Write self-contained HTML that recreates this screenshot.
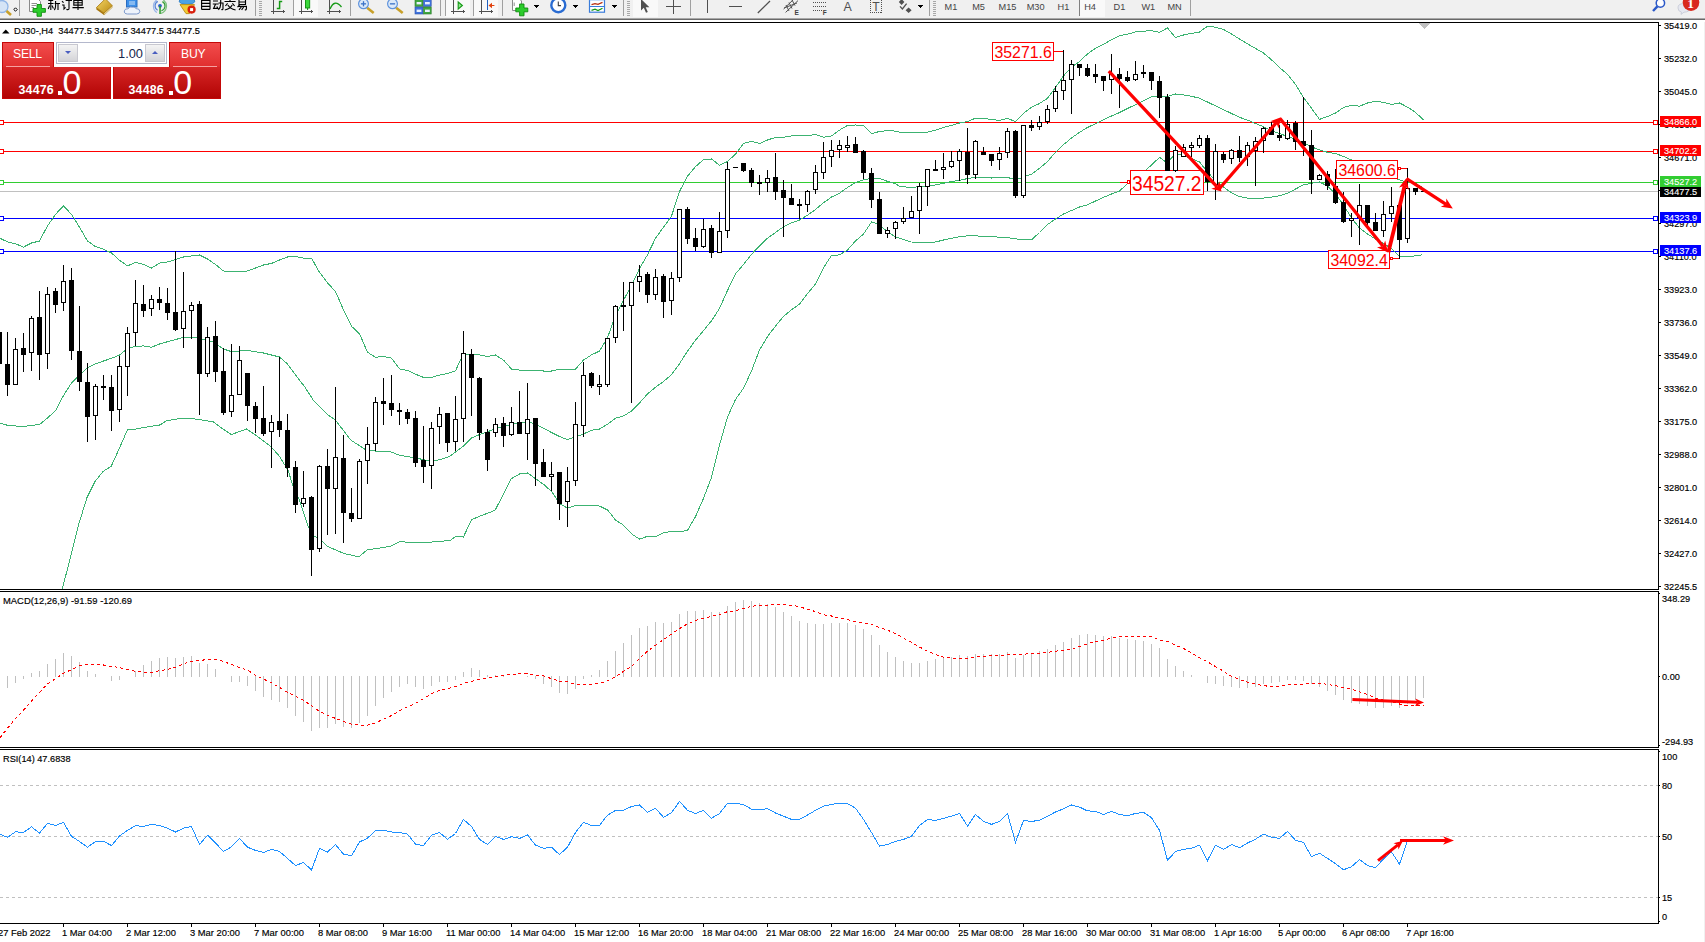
<!DOCTYPE html>
<html><head><meta charset="utf-8"><title>DJ30 H4</title>
<style>
html,body{margin:0;padding:0}
body{width:1705px;height:942px;overflow:hidden;background:#fff;position:relative;font-family:"Liberation Sans",sans-serif}
svg{position:absolute;left:0;top:0;display:block;overflow:hidden}
#panel{position:absolute;left:0;top:0;width:230px;height:110px}
#panel div,#panel span,#panel i,#panel b{position:absolute;display:block;box-sizing:border-box}
.pb{top:42px;height:25px;background:linear-gradient(#f24c4c,#e02e2e);border:1px solid #c40808;border-bottom:none;color:#fff;font-size:12.2px}
.pb span{top:3.5px;letter-spacing:-.25px}
.pb i{left:3px;right:3px;bottom:0;height:1px;background:#f6a0a0}
.vol{left:56px;top:42px;width:111px;height:22px;border:1px solid #b4b8cc;background:#fff}
.vb{top:1px;width:20px;height:18px;background:linear-gradient(#f4f4f4,#d4d4d8);border:1px solid #c8c8d0}
.vb b{left:6px;top:6px;width:0;height:0;border-left:3px solid transparent;border-right:3px solid transparent}
.vb b.dn{border-top:3.5px solid #4a5ec0}
.vb b.up{border-bottom:3.5px solid #4a5ec0}
.vin{left:21px;top:1px;width:68px;height:20px;text-align:right;padding-right:3px;font-size:12.8px;line-height:20px;color:#16264a}
.pp{top:67px;height:32px;background:linear-gradient(#d62626,#b20404);border:1px solid #c40808;border-top:none;color:#fff}
.pp .sm{top:16px;font-size:12.4px;font-weight:bold;letter-spacing:.2px}
.pp .dot{top:23.5px;width:4px;height:4px;background:#fff}
.pp .big{top:-3.6px;font-size:34px;line-height:38px}
</style></head>
<body>
<svg id="chart" width="1705" height="942" viewBox="0 0 1705 942" shape-rendering="crispEdges">
<rect x="0" y="22" width="1659" height="1" fill="#000"/>
<rect x="0" y="589" width="1659" height="1" fill="#000"/>
<rect x="0" y="591" width="1659" height="1" fill="#000"/>
<rect x="0" y="747" width="1659" height="1" fill="#000"/>
<rect x="0" y="749" width="1659" height="1" fill="#000"/>
<rect x="0" y="923" width="1659" height="1" fill="#000"/>
<rect x="1658" y="22" width="1" height="902" fill="#000"/>
<rect x="1704" y="20" width="1" height="922" fill="#f0f0f0"/>
<polygon points="1419,23 1430,23 1424.5,29" fill="#c0c0c0"/>
<rect x="0" y="122" width="1658" height="1" fill="#ff0000"/>
<rect x="0" y="151" width="1658" height="1" fill="#ff0000"/>
<rect x="0" y="182" width="1658" height="1" fill="#32cd32"/>
<rect x="0" y="191" width="1658" height="1" fill="#c0c0c0"/>
<rect x="0" y="218" width="1658" height="1" fill="#0000ff"/>
<rect x="0" y="251" width="1658" height="1" fill="#0000ff"/>
<line x1="0" y1="785.5" x2="1658" y2="785.5" stroke="#c0c0c0" stroke-width="1" stroke-dasharray="3,3"/>
<line x1="0" y1="836.5" x2="1658" y2="836.5" stroke="#c0c0c0" stroke-width="1" stroke-dasharray="3,3"/>
<line x1="0" y1="897.5" x2="1658" y2="897.5" stroke="#c0c0c0" stroke-width="1" stroke-dasharray="3,3"/>
<polyline points="0.0,238.3 7.5,241.9 15.5,243.8 23.5,247.1 31.5,243.0 39.5,241.0 47.5,225.9 55.5,214.3 63.5,206.0 71.5,214.3 79.5,227.2 87.5,241.0 95.5,246.6 103.5,249.3 111.5,252.9 119.5,260.3 127.5,265.9 135.5,262.3 143.5,264.5 151.5,268.0 159.5,263.1 167.5,262.0 183.5,257.0 199.5,255.0 207.5,259.0 215.5,264.5 223.5,271.0 231.5,271.5 239.5,271.5 247.5,271.0 255.5,268.0 263.5,265.0 271.5,263.4 279.5,260.0 287.5,257.0 295.5,256.5 303.5,258.2 311.5,258.2 319.5,272.3 327.5,282.8 335.5,291.6 343.5,309.8 351.5,326.3 359.5,333.8 367.5,352.2 375.5,357.3 383.5,356.4 391.5,358.2 399.5,368.9 407.5,370.4 415.5,374.2 423.5,377.4 431.5,377.4 439.5,375.1 447.5,373.6 455.5,370.8 463.5,353.5 471.5,354.9 479.5,354.9 487.5,356.4 495.5,355.0 503.5,360.1 511.5,369.1 519.5,370.1 527.5,370.1 535.5,370.1 543.5,371.0 551.5,371.0 559.5,369.1 567.5,369.9 575.5,369.1 583.5,360.1 591.5,354.9 599.5,351.1 607.5,337.6 615.5,315.5 623.5,300.3 631.5,285.2 639.5,268.6 647.5,254.8 655.5,238.3 663.5,227.2 671.5,216.2 679.5,191.4 687.5,176.2 695.5,166.6 703.5,159.7 711.5,159.0 719.5,165.2 727.5,161.6 735.5,154.0 740.0,148.3 743.5,143.5 751.5,141.2 759.5,143.5 767.5,140.0 775.5,137.4 783.5,137.2 791.5,136.0 799.5,135.5 807.5,135.9 815.5,134.4 823.5,137.2 831.5,135.9 839.5,130.1 847.5,125.4 855.5,125.0 863.5,125.4 871.5,133.6 879.5,131.5 887.5,130.7 895.5,131.1 899.6,132.1 911.5,132.5 919.5,132.4 927.5,132.1 935.5,130.2 943.5,127.4 951.5,125.4 959.5,123.0 967.5,121.6 975.5,118.2 983.5,118.2 991.5,119.7 999.5,120.3 1007.5,118.4 1015.5,121.6 1023.5,113.4 1031.5,107.3 1039.5,103.5 1047.5,98.3 1055.5,87.4 1063.5,75.9 1071.5,67.3 1079.5,61.5 1087.5,53.9 1095.5,48.2 1103.5,44.3 1111.5,39.6 1119.5,35.7 1127.5,34.2 1135.5,31.9 1143.5,31.2 1151.5,30.6 1159.5,32.3 1167.5,27.9 1175.5,37.6 1183.5,35.0 1191.5,33.4 1199.5,32.0 1207.5,26.2 1215.5,27.2 1223.5,29.5 1231.5,34.0 1239.5,39.0 1247.5,43.8 1255.5,48.4 1263.5,53.0 1271.5,59.8 1279.5,67.6 1287.5,74.3 1295.5,84.3 1303.5,97.5 1311.5,108.3 1319.5,119.4 1327.5,116.5 1335.5,113.0 1343.5,107.5 1351.5,105.3 1359.5,106.2 1367.5,103.0 1375.5,101.3 1383.5,102.4 1391.5,104.5 1399.5,103.0 1407.5,107.1 1415.5,112.4 1423.5,119.8" fill="none" stroke="#3cb371" stroke-width="1"/>
<polyline points="0.0,423.0 7.5,425.3 15.5,426.0 23.5,426.4 31.5,425.5 39.5,424.5 47.5,418.0 55.5,410.7 63.5,395.5 71.5,383.0 79.5,374.8 87.5,368.0 95.5,363.8 103.5,361.0 111.5,358.3 119.5,355.0 127.5,348.6 135.5,346.4 143.5,345.9 151.5,347.2 159.5,344.0 166.5,342.0 183.5,337.4 198.5,338.0 213.5,342.0 223.5,349.0 231.5,351.7 246.5,350.3 263.5,353.0 279.5,357.0 287.5,364.0 295.5,375.0 305.2,387.5 313.4,400.4 327.4,414.4 335.5,420.2 350.7,440.0 367.0,450.6 390.4,451.8 399.8,455.3 413.8,457.6 430.0,461.0 440.0,459.7 449.3,456.6 463.4,446.0 471.5,438.0 479.7,434.5 486.7,432.0 503.0,426.3 519.4,422.8 527.6,421.6 535.8,424.0 544.0,428.6 559.0,436.3 567.3,439.6 575.5,436.8 583.5,434.0 591.5,430.2 599.5,429.1 607.5,424.3 615.5,418.2 623.5,415.9 631.5,411.1 639.5,402.9 647.5,394.0 655.5,387.3 663.5,381.5 671.4,374.8 679.4,363.8 687.4,351.4 695.4,340.3 703.4,330.7 711.4,321.0 719.4,308.6 727.4,290.7 735.4,274.0 743.4,264.5 751.5,254.4 759.5,245.8 767.5,238.2 775.6,232.4 783.6,226.7 791.4,222.9 799.5,220.0 807.5,215.2 815.5,209.5 823.5,202.8 831.6,197.0 839.4,193.2 847.4,187.5 855.5,182.7 863.5,179.8 871.5,178.5 879.6,178.5 887.6,181.4 895.4,183.7 899.6,186.2 911.4,187.6 919.4,186.6 927.5,186.0 935.5,185.0 943.5,183.4 951.6,181.5 959.6,180.3 967.4,178.6 975.5,177.4 983.5,177.6 991.5,178.0 999.5,177.4 1007.6,177.4 1015.4,179.9 1023.4,177.0 1031.5,174.2 1039.5,168.4 1047.5,161.5 1055.5,152.3 1063.5,144.7 1071.5,138.0 1079.6,132.3 1087.4,127.5 1095.4,123.7 1103.5,119.8 1111.5,116.0 1119.5,112.6 1127.6,108.4 1135.6,104.6 1143.4,100.7 1151.5,96.9 1159.5,96.0 1167.5,96.5 1175.5,94.0 1183.6,95.0 1191.4,96.3 1199.6,98.2 1207.4,102.0 1215.4,105.8 1223.5,109.6 1231.5,113.5 1239.5,117.3 1247.5,120.1 1255.6,123.6 1263.6,126.8 1271.4,130.7 1279.5,133.5 1287.5,136.5 1295.5,139.3 1303.6,143.0 1311.6,146.9 1319.4,149.8 1327.5,152.3 1335.5,153.5 1343.5,156.5 1350.0,159.3 1359.5,163.0 1367.5,166.0 1375.5,170.0 1383.5,173.5 1391.5,176.5 1397.3,179.0 1401.7,180.9 1407.5,181.5 1415.0,183.0 1422.5,187.5" fill="none" stroke="#3cb371" stroke-width="1"/>
<polyline points="62.4,588.5 70.6,556.9 78.7,524.3 86.9,497.8 95.0,481.5 103.2,471.3 111.3,466.2 119.5,447.9 127.6,429.5 135.8,429.1 143.9,427.5 152.1,426.1 160.2,424.9 166.5,420.7 183.0,418.0 198.0,419.3 213.4,422.0 223.0,429.0 231.4,434.5 246.5,429.0 254.8,434.5 271.4,447.0 279.7,456.6 287.9,470.0 293.4,487.0 299.3,499.6 308.7,527.7 313.4,535.8 320.4,539.4 327.4,546.4 343.7,553.4 358.9,556.9 367.0,549.9 390.4,546.4 399.8,541.7 420.8,542.9 450.0,540.5 456.4,536.0 463.4,537.0 471.5,519.7 479.7,516.2 495.0,510.4 503.0,495.0 511.2,478.8 519.4,474.0 527.6,473.0 535.8,478.8 544.0,484.7 551.7,491.7 559.6,503.4 567.3,508.0 575.5,505.7 583.5,505.1 591.5,505.1 599.5,506.1 607.5,509.9 615.5,520.0 623.5,525.2 631.5,533.8 639.5,539.1 647.5,536.3 655.5,536.6 663.5,532.8 671.5,531.5 679.5,531.9 687.5,530.3 695.5,516.6 703.5,498.4 711.5,477.4 719.5,445.0 727.5,417.2 735.5,399.4 743.5,388.2 751.5,371.0 759.5,350.0 767.5,336.6 775.5,326.1 783.5,316.5 791.5,309.8 799.5,304.1 807.5,293.6 815.5,284.0 823.5,267.8 831.5,255.4 839.5,254.9 847.5,250.0 855.5,241.0 863.5,234.0 871.5,222.0 879.5,224.5 887.5,232.0 895.5,236.8 899.6,238.2 911.4,242.0 919.4,242.6 927.5,242.6 935.5,242.0 943.5,240.0 951.6,238.2 959.6,236.7 967.4,235.9 975.5,235.9 991.5,236.7 1007.6,237.6 1015.4,238.8 1023.4,240.0 1031.5,239.8 1039.5,232.5 1047.5,224.5 1055.5,219.0 1063.5,214.0 1071.5,210.5 1079.5,207.0 1087.4,204.9 1095.4,201.1 1103.5,197.3 1111.5,194.0 1119.5,191.0 1127.5,183.7 1135.5,177.0 1143.5,172.0 1151.5,165.0 1159.5,157.4 1167.5,163.0 1175.5,153.0 1183.5,156.0 1191.5,158.5 1199.5,162.0 1207.5,172.0 1215.5,180.5 1223.5,187.0 1231.5,192.8 1239.5,196.6 1247.5,198.1 1255.6,198.5 1263.6,198.1 1271.4,197.2 1279.5,195.7 1287.5,193.4 1295.5,189.0 1303.6,184.8 1311.6,183.2 1319.4,182.0 1327.5,186.0 1335.5,194.0 1343.5,205.0 1351.5,218.0 1359.5,228.0 1367.5,234.0 1375.5,239.0 1383.5,243.5 1391.5,248.5 1399.5,256.6 1407.5,256.6 1415.5,255.9 1422.5,254.8" fill="none" stroke="#3cb371" stroke-width="1"/>
<rect x="7" y="676" width="1" height="12" fill="#c0c0c0"/>
<rect x="15" y="676" width="1" height="7" fill="#c0c0c0"/>
<rect x="23" y="676" width="1" height="3" fill="#c0c0c0"/>
<rect x="31" y="673" width="1" height="4" fill="#c0c0c0"/>
<rect x="39" y="671" width="1" height="6" fill="#c0c0c0"/>
<rect x="47" y="664" width="1" height="13" fill="#c0c0c0"/>
<rect x="55" y="659" width="1" height="18" fill="#c0c0c0"/>
<rect x="63" y="653" width="1" height="24" fill="#c0c0c0"/>
<rect x="71" y="656" width="1" height="21" fill="#c0c0c0"/>
<rect x="79" y="662" width="1" height="15" fill="#c0c0c0"/>
<rect x="87" y="671" width="1" height="6" fill="#c0c0c0"/>
<rect x="95" y="674" width="1" height="3" fill="#c0c0c0"/>
<rect x="111" y="676" width="1" height="5" fill="#c0c0c0"/>
<rect x="119" y="676" width="1" height="4" fill="#c0c0c0"/>
<rect x="135" y="671" width="1" height="6" fill="#c0c0c0"/>
<rect x="143" y="665" width="1" height="12" fill="#c0c0c0"/>
<rect x="151" y="661" width="1" height="16" fill="#c0c0c0"/>
<rect x="159" y="658" width="1" height="19" fill="#c0c0c0"/>
<rect x="167" y="657" width="1" height="20" fill="#c0c0c0"/>
<rect x="175" y="658" width="1" height="19" fill="#c0c0c0"/>
<rect x="183" y="657" width="1" height="20" fill="#c0c0c0"/>
<rect x="191" y="656" width="1" height="21" fill="#c0c0c0"/>
<rect x="199" y="663" width="1" height="14" fill="#c0c0c0"/>
<rect x="207" y="664" width="1" height="13" fill="#c0c0c0"/>
<rect x="215" y="669" width="1" height="8" fill="#c0c0c0"/>
<rect x="231" y="676" width="1" height="6" fill="#c0c0c0"/>
<rect x="239" y="676" width="1" height="6" fill="#c0c0c0"/>
<rect x="247" y="676" width="1" height="10" fill="#c0c0c0"/>
<rect x="255" y="676" width="1" height="15" fill="#c0c0c0"/>
<rect x="263" y="676" width="1" height="21" fill="#c0c0c0"/>
<rect x="271" y="676" width="1" height="24" fill="#c0c0c0"/>
<rect x="279" y="676" width="1" height="26" fill="#c0c0c0"/>
<rect x="287" y="676" width="1" height="32" fill="#c0c0c0"/>
<rect x="295" y="676" width="1" height="40" fill="#c0c0c0"/>
<rect x="303" y="676" width="1" height="46" fill="#c0c0c0"/>
<rect x="311" y="676" width="1" height="55" fill="#c0c0c0"/>
<rect x="319" y="676" width="1" height="52" fill="#c0c0c0"/>
<rect x="327" y="676" width="1" height="52" fill="#c0c0c0"/>
<rect x="335" y="676" width="1" height="48" fill="#c0c0c0"/>
<rect x="343" y="676" width="1" height="51" fill="#c0c0c0"/>
<rect x="351" y="676" width="1" height="52" fill="#c0c0c0"/>
<rect x="359" y="676" width="1" height="47" fill="#c0c0c0"/>
<rect x="367" y="676" width="1" height="40" fill="#c0c0c0"/>
<rect x="375" y="676" width="1" height="30" fill="#c0c0c0"/>
<rect x="383" y="676" width="1" height="22" fill="#c0c0c0"/>
<rect x="391" y="676" width="1" height="16" fill="#c0c0c0"/>
<rect x="399" y="676" width="1" height="11" fill="#c0c0c0"/>
<rect x="407" y="676" width="1" height="8" fill="#c0c0c0"/>
<rect x="415" y="676" width="1" height="11" fill="#c0c0c0"/>
<rect x="423" y="676" width="1" height="13" fill="#c0c0c0"/>
<rect x="431" y="676" width="1" height="10" fill="#c0c0c0"/>
<rect x="439" y="676" width="1" height="6" fill="#c0c0c0"/>
<rect x="447" y="676" width="1" height="6" fill="#c0c0c0"/>
<rect x="455" y="676" width="1" height="4" fill="#c0c0c0"/>
<rect x="463" y="672" width="1" height="5" fill="#c0c0c0"/>
<rect x="471" y="668" width="1" height="9" fill="#c0c0c0"/>
<rect x="479" y="670" width="1" height="7" fill="#c0c0c0"/>
<rect x="487" y="675" width="1" height="2" fill="#c0c0c0"/>
<rect x="495" y="675" width="1" height="2" fill="#c0c0c0"/>
<rect x="503" y="675" width="1" height="2" fill="#c0c0c0"/>
<rect x="527" y="676" width="1" height="1" fill="#c0c0c0"/>
<rect x="535" y="676" width="1" height="3" fill="#c0c0c0"/>
<rect x="543" y="676" width="1" height="8" fill="#c0c0c0"/>
<rect x="551" y="676" width="1" height="11" fill="#c0c0c0"/>
<rect x="559" y="676" width="1" height="17" fill="#c0c0c0"/>
<rect x="567" y="676" width="1" height="18" fill="#c0c0c0"/>
<rect x="575" y="676" width="1" height="13" fill="#c0c0c0"/>
<rect x="583" y="676" width="1" height="3" fill="#c0c0c0"/>
<rect x="591" y="675" width="1" height="2" fill="#c0c0c0"/>
<rect x="599" y="670" width="1" height="7" fill="#c0c0c0"/>
<rect x="607" y="661" width="1" height="16" fill="#c0c0c0"/>
<rect x="615" y="651" width="1" height="26" fill="#c0c0c0"/>
<rect x="623" y="643" width="1" height="34" fill="#c0c0c0"/>
<rect x="631" y="635" width="1" height="42" fill="#c0c0c0"/>
<rect x="639" y="628" width="1" height="49" fill="#c0c0c0"/>
<rect x="647" y="626" width="1" height="51" fill="#c0c0c0"/>
<rect x="655" y="622" width="1" height="55" fill="#c0c0c0"/>
<rect x="663" y="623" width="1" height="54" fill="#c0c0c0"/>
<rect x="671" y="622" width="1" height="55" fill="#c0c0c0"/>
<rect x="679" y="614" width="1" height="63" fill="#c0c0c0"/>
<rect x="687" y="611" width="1" height="66" fill="#c0c0c0"/>
<rect x="695" y="611" width="1" height="66" fill="#c0c0c0"/>
<rect x="703" y="610" width="1" height="67" fill="#c0c0c0"/>
<rect x="711" y="612" width="1" height="65" fill="#c0c0c0"/>
<rect x="719" y="612" width="1" height="65" fill="#c0c0c0"/>
<rect x="727" y="606" width="1" height="71" fill="#c0c0c0"/>
<rect x="735" y="602" width="1" height="75" fill="#c0c0c0"/>
<rect x="743" y="600" width="1" height="77" fill="#c0c0c0"/>
<rect x="751" y="601" width="1" height="76" fill="#c0c0c0"/>
<rect x="759" y="603" width="1" height="74" fill="#c0c0c0"/>
<rect x="767" y="604" width="1" height="73" fill="#c0c0c0"/>
<rect x="775" y="607" width="1" height="70" fill="#c0c0c0"/>
<rect x="783" y="612" width="1" height="65" fill="#c0c0c0"/>
<rect x="791" y="616" width="1" height="61" fill="#c0c0c0"/>
<rect x="799" y="621" width="1" height="56" fill="#c0c0c0"/>
<rect x="807" y="623" width="1" height="54" fill="#c0c0c0"/>
<rect x="815" y="624" width="1" height="53" fill="#c0c0c0"/>
<rect x="823" y="624" width="1" height="53" fill="#c0c0c0"/>
<rect x="831" y="623" width="1" height="54" fill="#c0c0c0"/>
<rect x="839" y="623" width="1" height="54" fill="#c0c0c0"/>
<rect x="847" y="623" width="1" height="54" fill="#c0c0c0"/>
<rect x="855" y="625" width="1" height="52" fill="#c0c0c0"/>
<rect x="863" y="629" width="1" height="48" fill="#c0c0c0"/>
<rect x="871" y="635" width="1" height="42" fill="#c0c0c0"/>
<rect x="879" y="645" width="1" height="32" fill="#c0c0c0"/>
<rect x="887" y="652" width="1" height="25" fill="#c0c0c0"/>
<rect x="895" y="657" width="1" height="20" fill="#c0c0c0"/>
<rect x="903" y="661" width="1" height="16" fill="#c0c0c0"/>
<rect x="911" y="663" width="1" height="14" fill="#c0c0c0"/>
<rect x="919" y="663" width="1" height="14" fill="#c0c0c0"/>
<rect x="927" y="661" width="1" height="16" fill="#c0c0c0"/>
<rect x="935" y="659" width="1" height="18" fill="#c0c0c0"/>
<rect x="943" y="658" width="1" height="19" fill="#c0c0c0"/>
<rect x="951" y="657" width="1" height="20" fill="#c0c0c0"/>
<rect x="959" y="655" width="1" height="22" fill="#c0c0c0"/>
<rect x="967" y="656" width="1" height="21" fill="#c0c0c0"/>
<rect x="975" y="654" width="1" height="23" fill="#c0c0c0"/>
<rect x="983" y="654" width="1" height="23" fill="#c0c0c0"/>
<rect x="991" y="654" width="1" height="23" fill="#c0c0c0"/>
<rect x="999" y="654" width="1" height="23" fill="#c0c0c0"/>
<rect x="1007" y="652" width="1" height="25" fill="#c0c0c0"/>
<rect x="1015" y="658" width="1" height="19" fill="#c0c0c0"/>
<rect x="1023" y="655" width="1" height="22" fill="#c0c0c0"/>
<rect x="1031" y="653" width="1" height="24" fill="#c0c0c0"/>
<rect x="1039" y="651" width="1" height="26" fill="#c0c0c0"/>
<rect x="1047" y="649" width="1" height="28" fill="#c0c0c0"/>
<rect x="1055" y="645" width="1" height="32" fill="#c0c0c0"/>
<rect x="1063" y="642" width="1" height="35" fill="#c0c0c0"/>
<rect x="1071" y="638" width="1" height="39" fill="#c0c0c0"/>
<rect x="1079" y="635" width="1" height="42" fill="#c0c0c0"/>
<rect x="1087" y="634" width="1" height="43" fill="#c0c0c0"/>
<rect x="1095" y="635" width="1" height="42" fill="#c0c0c0"/>
<rect x="1103" y="636" width="1" height="41" fill="#c0c0c0"/>
<rect x="1111" y="636" width="1" height="41" fill="#c0c0c0"/>
<rect x="1119" y="638" width="1" height="39" fill="#c0c0c0"/>
<rect x="1127" y="639" width="1" height="38" fill="#c0c0c0"/>
<rect x="1135" y="640" width="1" height="37" fill="#c0c0c0"/>
<rect x="1143" y="641" width="1" height="36" fill="#c0c0c0"/>
<rect x="1151" y="644" width="1" height="33" fill="#c0c0c0"/>
<rect x="1159" y="648" width="1" height="29" fill="#c0c0c0"/>
<rect x="1167" y="659" width="1" height="18" fill="#c0c0c0"/>
<rect x="1175" y="666" width="1" height="11" fill="#c0c0c0"/>
<rect x="1183" y="671" width="1" height="6" fill="#c0c0c0"/>
<rect x="1191" y="675" width="1" height="2" fill="#c0c0c0"/>
<rect x="1207" y="676" width="1" height="7" fill="#c0c0c0"/>
<rect x="1215" y="676" width="1" height="8" fill="#c0c0c0"/>
<rect x="1223" y="676" width="1" height="10" fill="#c0c0c0"/>
<rect x="1231" y="676" width="1" height="11" fill="#c0c0c0"/>
<rect x="1239" y="676" width="1" height="12" fill="#c0c0c0"/>
<rect x="1247" y="676" width="1" height="12" fill="#c0c0c0"/>
<rect x="1255" y="676" width="1" height="11" fill="#c0c0c0"/>
<rect x="1263" y="676" width="1" height="8" fill="#c0c0c0"/>
<rect x="1271" y="676" width="1" height="7" fill="#c0c0c0"/>
<rect x="1279" y="676" width="1" height="6" fill="#c0c0c0"/>
<rect x="1287" y="676" width="1" height="4" fill="#c0c0c0"/>
<rect x="1295" y="676" width="1" height="4" fill="#c0c0c0"/>
<rect x="1303" y="676" width="1" height="5" fill="#c0c0c0"/>
<rect x="1311" y="676" width="1" height="8" fill="#c0c0c0"/>
<rect x="1319" y="676" width="1" height="11" fill="#c0c0c0"/>
<rect x="1327" y="676" width="1" height="15" fill="#c0c0c0"/>
<rect x="1335" y="676" width="1" height="19" fill="#c0c0c0"/>
<rect x="1343" y="676" width="1" height="24" fill="#c0c0c0"/>
<rect x="1351" y="676" width="1" height="27" fill="#c0c0c0"/>
<rect x="1359" y="676" width="1" height="28" fill="#c0c0c0"/>
<rect x="1367" y="676" width="1" height="30" fill="#c0c0c0"/>
<rect x="1375" y="676" width="1" height="32" fill="#c0c0c0"/>
<rect x="1383" y="676" width="1" height="32" fill="#c0c0c0"/>
<rect x="1391" y="676" width="1" height="30" fill="#c0c0c0"/>
<rect x="1399" y="676" width="1" height="32" fill="#c0c0c0"/>
<rect x="1407" y="676" width="1" height="28" fill="#c0c0c0"/>
<rect x="1415" y="676" width="1" height="24" fill="#c0c0c0"/>
<rect x="1423" y="676" width="1" height="22" fill="#c0c0c0"/>
<polyline points="0.0,737.8 7.4,728.3 15.4,718.8 23.4,710.4 31.5,700.9 39.5,692.4 47.5,684.0 55.5,678.7 63.3,673.4 71.4,669.6 79.4,666.0 87.4,664.5 95.4,664.3 103.5,665.0 111.5,666.4 119.5,667.5 127.5,669.6 135.6,671.3 143.6,672.3 151.4,672.3 159.4,670.7 167.4,669.6 175.5,667.1 183.5,663.9 191.5,661.4 199.5,660.7 207.6,659.3 215.6,659.3 223.4,661.4 231.4,664.5 239.4,667.5 247.5,670.2 255.5,675.1 263.5,679.1 271.5,682.9 279.6,687.5 287.6,692.4 295.6,696.2 303.4,700.2 311.4,705.7 319.5,711.4 327.5,715.2 335.5,718.4 343.5,721.5 351.6,724.1 360.0,725.1 367.4,725.1 375.4,723.0 383.4,719.2 391.5,715.6 399.5,710.8 407.5,706.8 415.5,703.4 423.3,698.7 431.4,693.9 439.4,690.3 447.4,688.6 455.4,686.5 463.5,683.3 471.5,681.4 479.5,679.3 487.5,678.3 495.6,676.6 503.6,675.5 511.4,674.5 519.4,673.6 527.4,673.6 535.5,674.9 543.5,675.9 551.5,678.7 559.5,681.2 567.6,681.8 575.6,684.4 583.4,684.4 591.4,684.4 599.4,683.5 607.5,680.8 615.5,676.6 623.5,671.3 631.5,666.4 639.6,658.2 647.6,651.2 655.6,645.3 663.4,639.6 671.4,634.3 679.5,628.6 687.5,623.8 695.5,620.6 703.5,618.1 711.6,616.4 720.0,614.5 727.4,611.7 735.4,610.7 743.4,608.6 751.5,606.3 759.5,605.2 767.5,605.2 775.5,604.4 783.3,604.4 791.4,605.2 799.4,606.5 807.4,609.4 815.4,611.5 823.5,614.7 831.5,616.0 839.5,618.1 847.5,619.6 855.6,621.7 863.6,623.4 871.4,624.2 879.4,627.6 887.4,630.1 895.5,633.7 903.5,638.1 911.5,642.4 919.5,647.0 927.6,651.2 935.6,654.4 943.4,657.1 951.4,658.2 959.4,658.2 967.5,658.2 975.5,657.1 983.5,656.5 991.5,655.5 999.6,655.5 1007.6,654.6 1015.6,654.4 1023.4,654.4 1031.4,653.3 1039.5,653.3 1047.5,652.3 1055.5,651.2 1063.5,650.2 1071.6,649.1 1080.0,646.4 1087.4,643.8 1095.4,641.3 1103.4,640.3 1111.5,638.1 1119.5,636.9 1127.5,636.5 1135.5,636.5 1143.3,636.5 1151.4,636.9 1159.4,640.0 1167.4,641.3 1175.4,645.3 1183.5,648.5 1191.5,652.7 1199.5,657.6 1207.5,661.8 1215.6,666.6 1223.6,671.3 1231.4,676.1 1239.4,679.3 1247.4,682.3 1255.5,684.0 1263.5,685.7 1271.5,686.5 1279.5,686.5 1287.6,685.0 1295.6,684.6 1303.4,684.4 1311.4,683.3 1319.4,683.3 1327.5,684.4 1335.5,685.7 1343.5,687.5 1351.5,689.2 1359.6,692.0 1367.6,694.5 1375.6,698.1 1383.4,700.2 1391.4,701.9 1399.5,704.0 1407.5,705.7 1415.5,705.7 1423.5,705.1" fill="none" stroke="#ff0000" stroke-width="1" stroke-dasharray="3,3"/>
<polyline points="-0.5,834.1 7.5,837.3 15.5,831.8 23.5,832.5 31.5,826.8 39.5,833.1 47.5,823.4 55.5,825.5 63.5,822.3 71.5,836.3 79.5,841.5 87.5,847.2 95.5,841.5 103.5,841.3 111.5,845.6 119.5,836.0 127.5,830.3 135.5,825.7 143.5,826.5 151.5,824.4 159.5,825.5 167.5,828.2 175.5,832.0 183.5,828.2 191.5,826.5 199.5,844.5 207.5,835.2 215.5,843.0 223.5,851.5 231.5,846.8 239.5,838.4 247.5,847.2 255.5,850.4 263.5,852.5 271.5,849.4 279.5,851.5 287.5,858.4 295.5,865.6 303.5,862.4 311.5,870.0 319.5,848.3 327.5,852.1 335.5,844.5 343.5,854.2 351.5,855.7 359.5,842.0 367.5,838.2 375.5,830.3 383.5,830.3 391.5,832.0 399.5,832.5 407.5,834.1 415.5,844.1 423.5,845.6 431.5,835.2 439.5,832.5 447.5,839.2 455.5,833.5 463.5,819.4 471.5,826.5 479.5,839.4 487.5,844.5 495.5,836.3 503.5,839.4 511.5,836.7 519.5,838.4 527.5,835.0 535.5,845.1 543.5,848.3 551.5,847.2 559.5,854.6 567.5,847.2 575.5,832.5 583.5,822.3 591.5,825.5 599.5,825.5 607.5,815.1 615.5,810.5 623.5,810.3 631.5,806.5 639.5,805.0 647.5,812.4 655.5,808.2 663.5,817.3 671.5,812.8 679.5,801.4 687.5,810.3 695.5,813.5 703.5,810.3 711.5,818.3 719.5,813.5 727.5,803.3 735.5,803.3 743.5,804.6 751.5,809.2 759.5,809.7 767.5,808.6 775.5,813.0 783.5,816.2 791.5,819.4 799.5,819.4 807.5,815.1 815.5,810.3 823.5,806.1 831.5,804.4 839.5,803.3 847.5,803.5 855.5,808.2 863.5,819.4 871.5,832.5 879.5,846.2 887.5,844.5 895.5,841.3 903.5,839.4 911.5,836.3 919.5,825.5 927.5,819.4 935.5,820.4 943.5,818.3 951.5,816.2 959.5,813.5 967.5,826.1 975.5,814.5 983.5,821.3 991.5,824.4 999.5,821.3 1007.5,813.5 1015.5,842.4 1023.5,820.4 1031.5,821.5 1039.5,820.2 1047.5,816.2 1055.5,812.0 1063.5,808.8 1071.5,805.0 1079.5,807.1 1087.5,810.9 1095.5,811.3 1103.5,814.5 1111.5,811.3 1119.5,814.5 1127.5,815.6 1135.5,813.5 1143.5,812.4 1151.5,817.7 1159.5,830.3 1167.5,860.3 1175.5,851.5 1183.5,849.4 1191.5,848.3 1199.5,845.1 1207.5,860.5 1215.5,845.1 1223.5,849.4 1231.5,844.5 1239.5,847.7 1247.5,843.0 1255.5,839.2 1263.5,834.1 1271.5,837.3 1279.5,838.4 1287.5,831.4 1295.5,840.3 1303.5,842.4 1311.5,856.7 1319.5,853.2 1327.5,858.4 1335.5,863.7 1343.5,869.8 1351.5,866.7 1359.5,859.5 1367.5,865.6 1375.5,867.7 1383.5,858.9 1391.5,851.9 1399.5,864.1 1407.5,840.9 1415.5,840.7 1423.5,840.7" fill="none" stroke="#1e90ff" stroke-width="1"/>
</svg>
<svg id="objs" width="1705" height="942" viewBox="0 0 1705 942">
<rect x="992.5" y="42.5" width="61" height="18" fill="#fff" stroke="#ff0000" stroke-width="1" shape-rendering="crispEdges"/>
<text x="994.4" y="58" fill="#ff0000" style="font-family:&quot;Liberation Sans&quot;,sans-serif;font-size:16.6px" textLength="57.4" lengthAdjust="spacingAndGlyphs">35271.6</text>
<rect x="1054" y="51" width="10" height="1" fill="#ff0000" shape-rendering="crispEdges"/>
<rect x="1130.5" y="170.5" width="73" height="24" fill="#fff" stroke="#ff0000" stroke-width="1" shape-rendering="crispEdges"/>
<text x="1132" y="191" fill="#ff0000" style="font-family:&quot;Liberation Sans&quot;,sans-serif;font-size:21.6px" textLength="69.5" lengthAdjust="spacingAndGlyphs">34527.2</text>
<rect x="1120" y="182" width="7" height="1" fill="#ff0000" shape-rendering="crispEdges"/>
<rect x="1127.5" y="180.5" width="2" height="3" fill="#fff" stroke="#ff0000" stroke-width="1" shape-rendering="crispEdges"/>
<rect x="1336.5" y="160.5" width="61" height="18" fill="#fff" stroke="#ff0000" stroke-width="1" shape-rendering="crispEdges"/>
<text x="1338.4" y="176" fill="#ff0000" style="font-family:&quot;Liberation Sans&quot;,sans-serif;font-size:16.6px" textLength="57.4" lengthAdjust="spacingAndGlyphs">34600.6</text>
<rect x="1398.5" y="167.5" width="2" height="2" fill="#fff" stroke="#ff0000" stroke-width="1" shape-rendering="crispEdges"/>
<rect x="1401" y="168" width="7" height="1" fill="#ff0000" shape-rendering="crispEdges"/>
<rect x="1328.5" y="250.5" width="61" height="18" fill="#fff" stroke="#ff0000" stroke-width="1" shape-rendering="crispEdges"/>
<text x="1330.4" y="266" fill="#ff0000" style="font-family:&quot;Liberation Sans&quot;,sans-serif;font-size:16.6px" textLength="57.4" lengthAdjust="spacingAndGlyphs">34092.4</text>
<rect x="1390.5" y="257.5" width="2" height="2" fill="#fff" stroke="#ff0000" stroke-width="1" shape-rendering="crispEdges"/>
<rect x="1393" y="258" width="7" height="1" fill="#ff0000" shape-rendering="crispEdges"/>
</svg>
<svg id="cand" width="1705" height="942" viewBox="0 0 1705 942" shape-rendering="crispEdges">
<rect x="-1" y="326" width="1" height="46" fill="#000"/>
<rect x="-3" y="332" width="5" height="32" fill="#000"/>
<rect x="7" y="332" width="1" height="64" fill="#000"/>
<rect x="5" y="364" width="5" height="21" fill="#000"/>
<rect x="15" y="338" width="1" height="47" fill="#000"/>
<rect x="13" y="349" width="5" height="36" fill="#000"/>
<rect x="14" y="350" width="3" height="34" fill="#fff"/>
<rect x="23" y="333" width="1" height="39" fill="#000"/>
<rect x="21" y="348" width="5" height="7" fill="#000"/>
<rect x="31" y="316" width="1" height="55" fill="#000"/>
<rect x="29" y="318" width="5" height="35" fill="#000"/>
<rect x="30" y="319" width="3" height="33" fill="#fff"/>
<rect x="39" y="291" width="1" height="89" fill="#000"/>
<rect x="37" y="317" width="5" height="38" fill="#000"/>
<rect x="47" y="287" width="1" height="82" fill="#000"/>
<rect x="45" y="294" width="5" height="60" fill="#000"/>
<rect x="46" y="295" width="3" height="58" fill="#fff"/>
<rect x="55" y="288" width="1" height="25" fill="#000"/>
<rect x="53" y="291" width="5" height="14" fill="#000"/>
<rect x="63" y="265" width="1" height="46" fill="#000"/>
<rect x="61" y="281" width="5" height="22" fill="#000"/>
<rect x="62" y="282" width="3" height="20" fill="#fff"/>
<rect x="71" y="268" width="1" height="92" fill="#000"/>
<rect x="69" y="280" width="5" height="71" fill="#000"/>
<rect x="79" y="306" width="1" height="85" fill="#000"/>
<rect x="77" y="351" width="5" height="31" fill="#000"/>
<rect x="87" y="363" width="1" height="79" fill="#000"/>
<rect x="85" y="382" width="5" height="35" fill="#000"/>
<rect x="95" y="384" width="1" height="56" fill="#000"/>
<rect x="93" y="386" width="5" height="30" fill="#000"/>
<rect x="94" y="387" width="3" height="28" fill="#fff"/>
<rect x="103" y="375" width="1" height="25" fill="#000"/>
<rect x="101" y="386" width="5" height="2" fill="#000"/>
<rect x="111" y="375" width="1" height="56" fill="#000"/>
<rect x="109" y="387" width="5" height="24" fill="#000"/>
<rect x="119" y="356" width="1" height="66" fill="#000"/>
<rect x="117" y="366" width="5" height="44" fill="#000"/>
<rect x="118" y="367" width="3" height="42" fill="#fff"/>
<rect x="127" y="327" width="1" height="69" fill="#000"/>
<rect x="125" y="333" width="5" height="34" fill="#000"/>
<rect x="126" y="334" width="3" height="32" fill="#fff"/>
<rect x="135" y="280" width="1" height="66" fill="#000"/>
<rect x="133" y="303" width="5" height="30" fill="#000"/>
<rect x="134" y="304" width="3" height="28" fill="#fff"/>
<rect x="143" y="285" width="1" height="32" fill="#000"/>
<rect x="141" y="304" width="5" height="7" fill="#000"/>
<rect x="151" y="295" width="1" height="21" fill="#000"/>
<rect x="149" y="299" width="5" height="10" fill="#000"/>
<rect x="150" y="300" width="3" height="8" fill="#fff"/>
<rect x="159" y="287" width="1" height="23" fill="#000"/>
<rect x="157" y="299" width="5" height="4" fill="#000"/>
<rect x="167" y="288" width="1" height="32" fill="#000"/>
<rect x="165" y="303" width="5" height="10" fill="#000"/>
<rect x="175" y="251" width="1" height="80" fill="#000"/>
<rect x="173" y="312" width="5" height="18" fill="#000"/>
<rect x="183" y="272" width="1" height="76" fill="#000"/>
<rect x="181" y="311" width="5" height="18" fill="#000"/>
<rect x="182" y="312" width="3" height="16" fill="#fff"/>
<rect x="191" y="302" width="1" height="37" fill="#000"/>
<rect x="189" y="305" width="5" height="6" fill="#000"/>
<rect x="190" y="306" width="3" height="4" fill="#fff"/>
<rect x="199" y="301" width="1" height="114" fill="#000"/>
<rect x="197" y="304" width="5" height="70" fill="#000"/>
<rect x="207" y="327" width="1" height="50" fill="#000"/>
<rect x="205" y="337" width="5" height="37" fill="#000"/>
<rect x="206" y="338" width="3" height="35" fill="#fff"/>
<rect x="215" y="321" width="1" height="61" fill="#000"/>
<rect x="213" y="336" width="5" height="36" fill="#000"/>
<rect x="223" y="348" width="1" height="67" fill="#000"/>
<rect x="221" y="371" width="5" height="42" fill="#000"/>
<rect x="231" y="344" width="1" height="73" fill="#000"/>
<rect x="229" y="395" width="5" height="17" fill="#000"/>
<rect x="230" y="396" width="3" height="15" fill="#fff"/>
<rect x="239" y="346" width="1" height="49" fill="#000"/>
<rect x="237" y="360" width="5" height="35" fill="#000"/>
<rect x="238" y="361" width="3" height="33" fill="#fff"/>
<rect x="247" y="373" width="1" height="48" fill="#000"/>
<rect x="245" y="373" width="5" height="33" fill="#000"/>
<rect x="255" y="402" width="1" height="31" fill="#000"/>
<rect x="253" y="406" width="5" height="13" fill="#000"/>
<rect x="263" y="386" width="1" height="50" fill="#000"/>
<rect x="261" y="418" width="5" height="16" fill="#000"/>
<rect x="271" y="415" width="1" height="53" fill="#000"/>
<rect x="269" y="422" width="5" height="10" fill="#000"/>
<rect x="270" y="423" width="3" height="8" fill="#fff"/>
<rect x="279" y="357" width="1" height="80" fill="#000"/>
<rect x="277" y="421" width="5" height="9" fill="#000"/>
<rect x="287" y="414" width="1" height="63" fill="#000"/>
<rect x="285" y="430" width="5" height="38" fill="#000"/>
<rect x="295" y="461" width="1" height="52" fill="#000"/>
<rect x="293" y="467" width="5" height="38" fill="#000"/>
<rect x="303" y="471" width="1" height="36" fill="#000"/>
<rect x="301" y="498" width="5" height="6" fill="#000"/>
<rect x="302" y="499" width="3" height="4" fill="#fff"/>
<rect x="311" y="496" width="1" height="80" fill="#000"/>
<rect x="309" y="497" width="5" height="53" fill="#000"/>
<rect x="319" y="465" width="1" height="87" fill="#000"/>
<rect x="317" y="466" width="5" height="83" fill="#000"/>
<rect x="318" y="467" width="3" height="81" fill="#fff"/>
<rect x="327" y="449" width="1" height="86" fill="#000"/>
<rect x="325" y="466" width="5" height="23" fill="#000"/>
<rect x="335" y="387" width="1" height="147" fill="#000"/>
<rect x="333" y="457" width="5" height="32" fill="#000"/>
<rect x="334" y="458" width="3" height="30" fill="#fff"/>
<rect x="343" y="435" width="1" height="108" fill="#000"/>
<rect x="341" y="458" width="5" height="55" fill="#000"/>
<rect x="351" y="488" width="1" height="34" fill="#000"/>
<rect x="349" y="513" width="5" height="6" fill="#000"/>
<rect x="359" y="459" width="1" height="60" fill="#000"/>
<rect x="357" y="461" width="5" height="58" fill="#000"/>
<rect x="358" y="462" width="3" height="56" fill="#fff"/>
<rect x="367" y="427" width="1" height="57" fill="#000"/>
<rect x="365" y="444" width="5" height="17" fill="#000"/>
<rect x="366" y="445" width="3" height="15" fill="#fff"/>
<rect x="375" y="397" width="1" height="54" fill="#000"/>
<rect x="373" y="402" width="5" height="42" fill="#000"/>
<rect x="374" y="403" width="3" height="40" fill="#fff"/>
<rect x="383" y="378" width="1" height="47" fill="#000"/>
<rect x="381" y="401" width="5" height="3" fill="#000"/>
<rect x="391" y="375" width="1" height="41" fill="#000"/>
<rect x="389" y="403" width="5" height="7" fill="#000"/>
<rect x="399" y="403" width="1" height="22" fill="#000"/>
<rect x="397" y="410" width="5" height="2" fill="#000"/>
<rect x="407" y="409" width="1" height="15" fill="#000"/>
<rect x="405" y="412" width="5" height="7" fill="#000"/>
<rect x="415" y="411" width="1" height="56" fill="#000"/>
<rect x="413" y="418" width="5" height="45" fill="#000"/>
<rect x="423" y="426" width="1" height="57" fill="#000"/>
<rect x="421" y="460" width="5" height="7" fill="#000"/>
<rect x="431" y="422" width="1" height="67" fill="#000"/>
<rect x="429" y="428" width="5" height="38" fill="#000"/>
<rect x="430" y="429" width="3" height="36" fill="#fff"/>
<rect x="439" y="407" width="1" height="37" fill="#000"/>
<rect x="437" y="414" width="5" height="13" fill="#000"/>
<rect x="438" y="415" width="3" height="11" fill="#fff"/>
<rect x="447" y="413" width="1" height="39" fill="#000"/>
<rect x="445" y="413" width="5" height="30" fill="#000"/>
<rect x="455" y="396" width="1" height="55" fill="#000"/>
<rect x="453" y="419" width="5" height="23" fill="#000"/>
<rect x="454" y="420" width="3" height="21" fill="#fff"/>
<rect x="463" y="331" width="1" height="111" fill="#000"/>
<rect x="461" y="353" width="5" height="66" fill="#000"/>
<rect x="462" y="354" width="3" height="64" fill="#fff"/>
<rect x="471" y="349" width="1" height="67" fill="#000"/>
<rect x="469" y="354" width="5" height="24" fill="#000"/>
<rect x="479" y="377" width="1" height="63" fill="#000"/>
<rect x="477" y="378" width="5" height="55" fill="#000"/>
<rect x="487" y="429" width="1" height="42" fill="#000"/>
<rect x="485" y="432" width="5" height="28" fill="#000"/>
<rect x="495" y="418" width="1" height="19" fill="#000"/>
<rect x="493" y="424" width="5" height="9" fill="#000"/>
<rect x="494" y="425" width="3" height="7" fill="#fff"/>
<rect x="503" y="417" width="1" height="30" fill="#000"/>
<rect x="501" y="423" width="5" height="13" fill="#000"/>
<rect x="511" y="407" width="1" height="29" fill="#000"/>
<rect x="509" y="422" width="5" height="13" fill="#000"/>
<rect x="510" y="423" width="3" height="11" fill="#fff"/>
<rect x="519" y="391" width="1" height="43" fill="#000"/>
<rect x="517" y="422" width="5" height="12" fill="#000"/>
<rect x="527" y="383" width="1" height="77" fill="#000"/>
<rect x="525" y="419" width="5" height="15" fill="#000"/>
<rect x="526" y="420" width="3" height="13" fill="#fff"/>
<rect x="535" y="418" width="1" height="68" fill="#000"/>
<rect x="533" y="418" width="5" height="46" fill="#000"/>
<rect x="543" y="449" width="1" height="28" fill="#000"/>
<rect x="541" y="462" width="5" height="15" fill="#000"/>
<rect x="551" y="462" width="1" height="29" fill="#000"/>
<rect x="549" y="474" width="5" height="3" fill="#000"/>
<rect x="550" y="475" width="3" height="1" fill="#fff"/>
<rect x="559" y="472" width="1" height="48" fill="#000"/>
<rect x="557" y="472" width="5" height="32" fill="#000"/>
<rect x="567" y="467" width="1" height="60" fill="#000"/>
<rect x="565" y="481" width="5" height="21" fill="#000"/>
<rect x="566" y="482" width="3" height="19" fill="#fff"/>
<rect x="575" y="402" width="1" height="84" fill="#000"/>
<rect x="573" y="424" width="5" height="57" fill="#000"/>
<rect x="574" y="425" width="3" height="55" fill="#fff"/>
<rect x="583" y="362" width="1" height="75" fill="#000"/>
<rect x="581" y="375" width="5" height="51" fill="#000"/>
<rect x="582" y="376" width="3" height="49" fill="#fff"/>
<rect x="591" y="372" width="1" height="16" fill="#000"/>
<rect x="589" y="373" width="5" height="13" fill="#000"/>
<rect x="599" y="375" width="1" height="20" fill="#000"/>
<rect x="597" y="384" width="5" height="3" fill="#000"/>
<rect x="598" y="385" width="3" height="1" fill="#fff"/>
<rect x="607" y="338" width="1" height="49" fill="#000"/>
<rect x="605" y="338" width="5" height="47" fill="#000"/>
<rect x="606" y="339" width="3" height="45" fill="#fff"/>
<rect x="615" y="305" width="1" height="38" fill="#000"/>
<rect x="613" y="306" width="5" height="32" fill="#000"/>
<rect x="614" y="307" width="3" height="30" fill="#fff"/>
<rect x="623" y="282" width="1" height="49" fill="#000"/>
<rect x="621" y="305" width="5" height="2" fill="#000"/>
<rect x="631" y="282" width="1" height="121" fill="#000"/>
<rect x="629" y="282" width="5" height="24" fill="#000"/>
<rect x="630" y="283" width="3" height="22" fill="#fff"/>
<rect x="639" y="265" width="1" height="27" fill="#000"/>
<rect x="637" y="276" width="5" height="6" fill="#000"/>
<rect x="638" y="277" width="3" height="4" fill="#fff"/>
<rect x="647" y="272" width="1" height="31" fill="#000"/>
<rect x="645" y="274" width="5" height="21" fill="#000"/>
<rect x="655" y="269" width="1" height="31" fill="#000"/>
<rect x="653" y="277" width="5" height="18" fill="#000"/>
<rect x="654" y="278" width="3" height="16" fill="#fff"/>
<rect x="663" y="274" width="1" height="44" fill="#000"/>
<rect x="661" y="276" width="5" height="26" fill="#000"/>
<rect x="671" y="272" width="1" height="43" fill="#000"/>
<rect x="669" y="278" width="5" height="23" fill="#000"/>
<rect x="670" y="279" width="3" height="21" fill="#fff"/>
<rect x="679" y="209" width="1" height="73" fill="#000"/>
<rect x="677" y="209" width="5" height="69" fill="#000"/>
<rect x="678" y="210" width="3" height="67" fill="#fff"/>
<rect x="687" y="207" width="1" height="37" fill="#000"/>
<rect x="685" y="209" width="5" height="30" fill="#000"/>
<rect x="695" y="228" width="1" height="23" fill="#000"/>
<rect x="693" y="238" width="5" height="9" fill="#000"/>
<rect x="703" y="219" width="1" height="29" fill="#000"/>
<rect x="701" y="229" width="5" height="18" fill="#000"/>
<rect x="702" y="230" width="3" height="16" fill="#fff"/>
<rect x="711" y="225" width="1" height="33" fill="#000"/>
<rect x="709" y="228" width="5" height="25" fill="#000"/>
<rect x="719" y="212" width="1" height="41" fill="#000"/>
<rect x="717" y="231" width="5" height="22" fill="#000"/>
<rect x="718" y="232" width="3" height="20" fill="#fff"/>
<rect x="727" y="162" width="1" height="76" fill="#000"/>
<rect x="725" y="169" width="5" height="62" fill="#000"/>
<rect x="726" y="170" width="3" height="60" fill="#fff"/>
<rect x="735" y="167" width="1" height="1" fill="#000"/>
<rect x="733" y="167" width="5" height="1" fill="#000"/>
<rect x="743" y="163" width="1" height="9" fill="#000"/>
<rect x="741" y="163" width="5" height="8" fill="#000"/>
<rect x="751" y="168" width="1" height="19" fill="#000"/>
<rect x="749" y="170" width="5" height="13" fill="#000"/>
<rect x="759" y="175" width="1" height="20" fill="#000"/>
<rect x="757" y="182" width="5" height="2" fill="#000"/>
<rect x="767" y="170" width="1" height="22" fill="#000"/>
<rect x="765" y="178" width="5" height="5" fill="#000"/>
<rect x="766" y="179" width="3" height="3" fill="#fff"/>
<rect x="775" y="153" width="1" height="47" fill="#000"/>
<rect x="773" y="177" width="5" height="15" fill="#000"/>
<rect x="783" y="180" width="1" height="57" fill="#000"/>
<rect x="781" y="190" width="5" height="8" fill="#000"/>
<rect x="791" y="184" width="1" height="21" fill="#000"/>
<rect x="789" y="198" width="5" height="7" fill="#000"/>
<rect x="799" y="199" width="1" height="20" fill="#000"/>
<rect x="797" y="204" width="5" height="2" fill="#000"/>
<rect x="807" y="190" width="1" height="22" fill="#000"/>
<rect x="805" y="191" width="5" height="14" fill="#000"/>
<rect x="806" y="192" width="3" height="12" fill="#fff"/>
<rect x="815" y="165" width="1" height="29" fill="#000"/>
<rect x="813" y="172" width="5" height="18" fill="#000"/>
<rect x="814" y="173" width="3" height="16" fill="#fff"/>
<rect x="823" y="142" width="1" height="37" fill="#000"/>
<rect x="821" y="157" width="5" height="16" fill="#000"/>
<rect x="822" y="158" width="3" height="14" fill="#fff"/>
<rect x="831" y="140" width="1" height="27" fill="#000"/>
<rect x="829" y="150" width="5" height="7" fill="#000"/>
<rect x="830" y="151" width="3" height="5" fill="#fff"/>
<rect x="839" y="140" width="1" height="18" fill="#000"/>
<rect x="837" y="145" width="5" height="5" fill="#000"/>
<rect x="838" y="146" width="3" height="3" fill="#fff"/>
<rect x="847" y="136" width="1" height="16" fill="#000"/>
<rect x="845" y="145" width="5" height="3" fill="#000"/>
<rect x="846" y="146" width="3" height="1" fill="#fff"/>
<rect x="855" y="137" width="1" height="16" fill="#000"/>
<rect x="853" y="144" width="5" height="9" fill="#000"/>
<rect x="863" y="150" width="1" height="29" fill="#000"/>
<rect x="861" y="151" width="5" height="22" fill="#000"/>
<rect x="871" y="168" width="1" height="40" fill="#000"/>
<rect x="869" y="173" width="5" height="27" fill="#000"/>
<rect x="879" y="192" width="1" height="42" fill="#000"/>
<rect x="877" y="199" width="5" height="35" fill="#000"/>
<rect x="887" y="227" width="1" height="11" fill="#000"/>
<rect x="885" y="230" width="5" height="4" fill="#000"/>
<rect x="886" y="231" width="3" height="2" fill="#fff"/>
<rect x="895" y="221" width="1" height="18" fill="#000"/>
<rect x="893" y="222" width="5" height="7" fill="#000"/>
<rect x="894" y="223" width="3" height="5" fill="#fff"/>
<rect x="903" y="207" width="1" height="17" fill="#000"/>
<rect x="901" y="218" width="5" height="4" fill="#000"/>
<rect x="902" y="219" width="3" height="2" fill="#fff"/>
<rect x="911" y="196" width="1" height="22" fill="#000"/>
<rect x="909" y="211" width="5" height="7" fill="#000"/>
<rect x="910" y="212" width="3" height="5" fill="#fff"/>
<rect x="919" y="183" width="1" height="51" fill="#000"/>
<rect x="917" y="186" width="5" height="25" fill="#000"/>
<rect x="918" y="187" width="3" height="23" fill="#fff"/>
<rect x="927" y="169" width="1" height="37" fill="#000"/>
<rect x="925" y="169" width="5" height="18" fill="#000"/>
<rect x="926" y="170" width="3" height="16" fill="#fff"/>
<rect x="935" y="160" width="1" height="11" fill="#000"/>
<rect x="933" y="169" width="5" height="2" fill="#000"/>
<rect x="943" y="153" width="1" height="26" fill="#000"/>
<rect x="941" y="167" width="5" height="3" fill="#000"/>
<rect x="942" y="168" width="3" height="1" fill="#fff"/>
<rect x="951" y="151" width="1" height="17" fill="#000"/>
<rect x="949" y="161" width="5" height="6" fill="#000"/>
<rect x="950" y="162" width="3" height="4" fill="#fff"/>
<rect x="959" y="149" width="1" height="32" fill="#000"/>
<rect x="957" y="151" width="5" height="10" fill="#000"/>
<rect x="958" y="152" width="3" height="8" fill="#fff"/>
<rect x="967" y="128" width="1" height="56" fill="#000"/>
<rect x="965" y="152" width="5" height="23" fill="#000"/>
<rect x="975" y="140" width="1" height="39" fill="#000"/>
<rect x="973" y="141" width="5" height="34" fill="#000"/>
<rect x="974" y="142" width="3" height="32" fill="#fff"/>
<rect x="983" y="147" width="1" height="8" fill="#000"/>
<rect x="981" y="152" width="5" height="3" fill="#000"/>
<rect x="991" y="154" width="1" height="12" fill="#000"/>
<rect x="989" y="154" width="5" height="7" fill="#000"/>
<rect x="999" y="147" width="1" height="23" fill="#000"/>
<rect x="997" y="153" width="5" height="7" fill="#000"/>
<rect x="998" y="154" width="3" height="5" fill="#fff"/>
<rect x="1007" y="128" width="1" height="30" fill="#000"/>
<rect x="1005" y="131" width="5" height="22" fill="#000"/>
<rect x="1006" y="132" width="3" height="20" fill="#fff"/>
<rect x="1015" y="130" width="1" height="68" fill="#000"/>
<rect x="1013" y="131" width="5" height="65" fill="#000"/>
<rect x="1023" y="125" width="1" height="73" fill="#000"/>
<rect x="1021" y="125" width="5" height="71" fill="#000"/>
<rect x="1022" y="126" width="3" height="69" fill="#fff"/>
<rect x="1031" y="120" width="1" height="11" fill="#000"/>
<rect x="1029" y="125" width="5" height="3" fill="#000"/>
<rect x="1039" y="116" width="1" height="14" fill="#000"/>
<rect x="1037" y="122" width="5" height="5" fill="#000"/>
<rect x="1038" y="123" width="3" height="3" fill="#fff"/>
<rect x="1047" y="105" width="1" height="19" fill="#000"/>
<rect x="1045" y="109" width="5" height="13" fill="#000"/>
<rect x="1046" y="110" width="3" height="11" fill="#fff"/>
<rect x="1055" y="86" width="1" height="26" fill="#000"/>
<rect x="1053" y="91" width="5" height="18" fill="#000"/>
<rect x="1054" y="92" width="3" height="16" fill="#fff"/>
<rect x="1063" y="50" width="1" height="50" fill="#000"/>
<rect x="1061" y="80" width="5" height="11" fill="#000"/>
<rect x="1062" y="81" width="3" height="9" fill="#fff"/>
<rect x="1071" y="60" width="1" height="54" fill="#000"/>
<rect x="1069" y="64" width="5" height="16" fill="#000"/>
<rect x="1070" y="65" width="3" height="14" fill="#fff"/>
<rect x="1079" y="64" width="1" height="12" fill="#000"/>
<rect x="1077" y="64" width="5" height="4" fill="#000"/>
<rect x="1087" y="64" width="1" height="13" fill="#000"/>
<rect x="1085" y="68" width="5" height="8" fill="#000"/>
<rect x="1095" y="64" width="1" height="19" fill="#000"/>
<rect x="1093" y="74" width="5" height="3" fill="#000"/>
<rect x="1103" y="76" width="1" height="15" fill="#000"/>
<rect x="1101" y="76" width="5" height="5" fill="#000"/>
<rect x="1111" y="54" width="1" height="40" fill="#000"/>
<rect x="1109" y="74" width="5" height="6" fill="#000"/>
<rect x="1110" y="75" width="3" height="4" fill="#fff"/>
<rect x="1119" y="68" width="1" height="40" fill="#000"/>
<rect x="1117" y="74" width="5" height="5" fill="#000"/>
<rect x="1127" y="71" width="1" height="11" fill="#000"/>
<rect x="1125" y="77" width="5" height="4" fill="#000"/>
<rect x="1135" y="61" width="1" height="20" fill="#000"/>
<rect x="1133" y="74" width="5" height="6" fill="#000"/>
<rect x="1134" y="75" width="3" height="4" fill="#fff"/>
<rect x="1143" y="65" width="1" height="13" fill="#000"/>
<rect x="1141" y="72" width="5" height="2" fill="#000"/>
<rect x="1151" y="72" width="1" height="18" fill="#000"/>
<rect x="1149" y="72" width="5" height="9" fill="#000"/>
<rect x="1159" y="76" width="1" height="42" fill="#000"/>
<rect x="1157" y="81" width="5" height="17" fill="#000"/>
<rect x="1167" y="94" width="1" height="77" fill="#000"/>
<rect x="1165" y="97" width="5" height="74" fill="#000"/>
<rect x="1175" y="146" width="1" height="26" fill="#000"/>
<rect x="1173" y="150" width="5" height="21" fill="#000"/>
<rect x="1174" y="151" width="3" height="19" fill="#fff"/>
<rect x="1183" y="144" width="1" height="13" fill="#000"/>
<rect x="1181" y="147" width="5" height="10" fill="#000"/>
<rect x="1182" y="148" width="3" height="8" fill="#fff"/>
<rect x="1191" y="142" width="1" height="15" fill="#000"/>
<rect x="1189" y="145" width="5" height="3" fill="#000"/>
<rect x="1190" y="146" width="3" height="1" fill="#fff"/>
<rect x="1199" y="135" width="1" height="13" fill="#000"/>
<rect x="1197" y="138" width="5" height="8" fill="#000"/>
<rect x="1198" y="139" width="3" height="6" fill="#fff"/>
<rect x="1207" y="135" width="1" height="56" fill="#000"/>
<rect x="1205" y="138" width="5" height="44" fill="#000"/>
<rect x="1215" y="144" width="1" height="56" fill="#000"/>
<rect x="1213" y="151" width="5" height="34" fill="#000"/>
<rect x="1214" y="152" width="3" height="32" fill="#fff"/>
<rect x="1223" y="152" width="1" height="11" fill="#000"/>
<rect x="1221" y="154" width="5" height="6" fill="#000"/>
<rect x="1231" y="149" width="1" height="15" fill="#000"/>
<rect x="1229" y="150" width="5" height="9" fill="#000"/>
<rect x="1230" y="151" width="3" height="7" fill="#fff"/>
<rect x="1239" y="136" width="1" height="26" fill="#000"/>
<rect x="1237" y="150" width="5" height="8" fill="#000"/>
<rect x="1247" y="142" width="1" height="24" fill="#000"/>
<rect x="1245" y="145" width="5" height="12" fill="#000"/>
<rect x="1246" y="146" width="3" height="10" fill="#fff"/>
<rect x="1255" y="137" width="1" height="49" fill="#000"/>
<rect x="1253" y="141" width="5" height="10" fill="#000"/>
<rect x="1254" y="142" width="3" height="8" fill="#fff"/>
<rect x="1263" y="127" width="1" height="26" fill="#000"/>
<rect x="1261" y="128" width="5" height="13" fill="#000"/>
<rect x="1262" y="129" width="3" height="11" fill="#fff"/>
<rect x="1271" y="122" width="1" height="13" fill="#000"/>
<rect x="1269" y="127" width="5" height="8" fill="#000"/>
<rect x="1279" y="125" width="1" height="16" fill="#000"/>
<rect x="1277" y="135" width="5" height="3" fill="#000"/>
<rect x="1287" y="120" width="1" height="20" fill="#000"/>
<rect x="1285" y="124" width="5" height="15" fill="#000"/>
<rect x="1286" y="125" width="3" height="13" fill="#fff"/>
<rect x="1295" y="121" width="1" height="29" fill="#000"/>
<rect x="1293" y="123" width="5" height="19" fill="#000"/>
<rect x="1303" y="97" width="1" height="59" fill="#000"/>
<rect x="1301" y="141" width="5" height="5" fill="#000"/>
<rect x="1311" y="130" width="1" height="64" fill="#000"/>
<rect x="1309" y="145" width="5" height="35" fill="#000"/>
<rect x="1319" y="174" width="1" height="6" fill="#000"/>
<rect x="1317" y="175" width="5" height="5" fill="#000"/>
<rect x="1318" y="176" width="3" height="3" fill="#fff"/>
<rect x="1327" y="171" width="1" height="19" fill="#000"/>
<rect x="1325" y="174" width="5" height="12" fill="#000"/>
<rect x="1335" y="169" width="1" height="35" fill="#000"/>
<rect x="1333" y="186" width="5" height="17" fill="#000"/>
<rect x="1343" y="192" width="1" height="31" fill="#000"/>
<rect x="1341" y="202" width="5" height="20" fill="#000"/>
<rect x="1351" y="213" width="1" height="24" fill="#000"/>
<rect x="1349" y="218" width="5" height="3" fill="#000"/>
<rect x="1350" y="219" width="3" height="1" fill="#fff"/>
<rect x="1359" y="184" width="1" height="61" fill="#000"/>
<rect x="1357" y="205" width="5" height="13" fill="#000"/>
<rect x="1358" y="206" width="3" height="11" fill="#fff"/>
<rect x="1367" y="205" width="1" height="20" fill="#000"/>
<rect x="1365" y="205" width="5" height="18" fill="#000"/>
<rect x="1375" y="213" width="1" height="18" fill="#000"/>
<rect x="1373" y="222" width="5" height="9" fill="#000"/>
<rect x="1383" y="201" width="1" height="36" fill="#000"/>
<rect x="1381" y="214" width="5" height="17" fill="#000"/>
<rect x="1382" y="215" width="3" height="15" fill="#fff"/>
<rect x="1391" y="187" width="1" height="35" fill="#000"/>
<rect x="1389" y="206" width="5" height="8" fill="#000"/>
<rect x="1390" y="207" width="3" height="6" fill="#fff"/>
<rect x="1399" y="205" width="1" height="54" fill="#000"/>
<rect x="1397" y="205" width="5" height="35" fill="#000"/>
<rect x="1407" y="168" width="1" height="75" fill="#000"/>
<rect x="1405" y="188" width="5" height="51" fill="#000"/>
<rect x="1406" y="189" width="3" height="49" fill="#fff"/>
<rect x="1415" y="188" width="1" height="7" fill="#000"/>
<rect x="1413" y="188" width="5" height="4" fill="#000"/>
<rect x="1423" y="191" width="1" height="1" fill="#000"/>
<rect x="1421" y="191" width="5" height="1" fill="#000"/>
<rect x="-0.5" y="120.5" width="4" height="4" fill="#fff" stroke="#ff0000" stroke-width="1"/>
<rect x="1653.5" y="120.5" width="4" height="4" fill="#fff" stroke="#ff0000" stroke-width="1"/>
<rect x="-0.5" y="149.5" width="4" height="4" fill="#fff" stroke="#ff0000" stroke-width="1"/>
<rect x="1653.5" y="149.5" width="4" height="4" fill="#fff" stroke="#ff0000" stroke-width="1"/>
<rect x="-0.5" y="180.5" width="4" height="4" fill="#fff" stroke="#32cd32" stroke-width="1"/>
<rect x="1653.5" y="180.5" width="4" height="4" fill="#fff" stroke="#32cd32" stroke-width="1"/>
<rect x="-0.5" y="216.5" width="4" height="4" fill="#fff" stroke="#0000ff" stroke-width="1"/>
<rect x="1653.5" y="216.5" width="4" height="4" fill="#fff" stroke="#0000ff" stroke-width="1"/>
<rect x="-0.5" y="249.5" width="4" height="4" fill="#fff" stroke="#0000ff" stroke-width="1"/>
<rect x="1653.5" y="249.5" width="4" height="4" fill="#fff" stroke="#0000ff" stroke-width="1"/>
</svg>
<svg id="arrows" width="1705" height="942" viewBox="0 0 1705 942">
<line x1="1108.8" y1="71.1" x2="1217.1" y2="186.8" stroke="#ff0000" stroke-width="3.3"/>
<polygon points="1221.5,191.5 1211.3,188.7 1217.1,186.8 1219.4,181.2" fill="#ff0000"/>
<line x1="1219.5" y1="188.5" x2="1276.3" y2="122.7" stroke="#ff0000" stroke-width="3.3"/>
<polygon points="1281.0,117.2 1278.6,128.4 1276.3,122.7 1270.3,121.2" fill="#ff0000"/>
<line x1="1280.0" y1="118.5" x2="1383.0" y2="246.3" stroke="#ff0000" stroke-width="3.3"/>
<polygon points="1388.0,252.5 1377.0,247.2 1383.0,246.3 1385.2,240.6" fill="#ff0000"/>
<line x1="1388.4" y1="252.3" x2="1404.6" y2="185.8" stroke="#ff0000" stroke-width="3.8"/>
<polygon points="1406.5,178.1 1408.8,190.0 1404.6,185.8 1399.0,187.6" fill="#ff0000"/>
<line x1="1406.5" y1="178.7" x2="1446.1" y2="204.3" stroke="#ff0000" stroke-width="3.3"/>
<polygon points="1452.8,208.6 1440.8,206.8 1446.1,204.3 1446.3,198.4" fill="#ff0000"/>
<line x1="1352.4" y1="699.6" x2="1417.5" y2="702.3" stroke="#ff0000" stroke-width="3"/>
<polygon points="1424.0,702.6 1414.9,706.0 1417.5,702.3 1415.2,698.5" fill="#ff0000"/>
<line x1="1378.0" y1="860.6" x2="1397.9" y2="844.8" stroke="#ff0000" stroke-width="3"/>
<polygon points="1403.0,840.8 1398.4,849.5 1397.9,844.8 1393.5,843.3" fill="#ff0000"/>
<line x1="1400.0" y1="840.5" x2="1446.1" y2="840.5" stroke="#ff0000" stroke-width="3"/>
<polygon points="1454.0,840.5 1443.0,844.8 1446.1,840.5 1443.0,836.2" fill="#ff0000"/>
</svg>
<svg id="txt" width="1705" height="942" viewBox="0 0 1705 942">
<g shape-rendering="crispEdges">
<rect x="1659" y="25" width="2" height="1" fill="#000"/>
<rect x="1659" y="58" width="2" height="1" fill="#000"/>
<rect x="1659" y="91" width="2" height="1" fill="#000"/>
<rect x="1659" y="124" width="2" height="1" fill="#000"/>
<rect x="1659" y="157" width="2" height="1" fill="#000"/>
<rect x="1659" y="190" width="2" height="1" fill="#000"/>
<rect x="1659" y="223" width="2" height="1" fill="#000"/>
<rect x="1659" y="256" width="2" height="1" fill="#000"/>
<rect x="1659" y="289" width="2" height="1" fill="#000"/>
<rect x="1659" y="322" width="2" height="1" fill="#000"/>
<rect x="1659" y="355" width="2" height="1" fill="#000"/>
<rect x="1659" y="388" width="2" height="1" fill="#000"/>
<rect x="1659" y="421" width="2" height="1" fill="#000"/>
<rect x="1659" y="454" width="2" height="1" fill="#000"/>
<rect x="1659" y="487" width="2" height="1" fill="#000"/>
<rect x="1659" y="520" width="2" height="1" fill="#000"/>
<rect x="1659" y="553" width="2" height="1" fill="#000"/>
<rect x="1659" y="586" width="2" height="1" fill="#000"/>
<rect x="1659" y="593" width="1" height="1" fill="#000"/>
<rect x="1659" y="676" width="1" height="1" fill="#000"/>
<rect x="1659" y="745" width="1" height="1" fill="#000"/>
<rect x="1659" y="751" width="1" height="1" fill="#000"/>
<rect x="1659" y="785" width="1" height="1" fill="#000"/>
<rect x="1659" y="836" width="1" height="1" fill="#000"/>
<rect x="1659" y="897" width="1" height="1" fill="#000"/>
<rect x="1659" y="921" width="1" height="1" fill="#000"/>
<rect x="1658" y="590" width="1" height="1" fill="#fff"/>
<rect x="1658" y="748" width="1" height="1" fill="#fff"/>
<rect x="-1" y="924" width="1" height="3" fill="#000"/>
<rect x="63" y="924" width="1" height="3" fill="#000"/>
<rect x="127" y="924" width="1" height="3" fill="#000"/>
<rect x="191" y="924" width="1" height="3" fill="#000"/>
<rect x="255" y="924" width="1" height="3" fill="#000"/>
<rect x="319" y="924" width="1" height="3" fill="#000"/>
<rect x="383" y="924" width="1" height="3" fill="#000"/>
<rect x="447" y="924" width="1" height="3" fill="#000"/>
<rect x="511" y="924" width="1" height="3" fill="#000"/>
<rect x="575" y="924" width="1" height="3" fill="#000"/>
<rect x="639" y="924" width="1" height="3" fill="#000"/>
<rect x="703" y="924" width="1" height="3" fill="#000"/>
<rect x="767" y="924" width="1" height="3" fill="#000"/>
<rect x="831" y="924" width="1" height="3" fill="#000"/>
<rect x="895" y="924" width="1" height="3" fill="#000"/>
<rect x="959" y="924" width="1" height="3" fill="#000"/>
<rect x="1023" y="924" width="1" height="3" fill="#000"/>
<rect x="1087" y="924" width="1" height="3" fill="#000"/>
<rect x="1151" y="924" width="1" height="3" fill="#000"/>
<rect x="1215" y="924" width="1" height="3" fill="#000"/>
<rect x="1279" y="924" width="1" height="3" fill="#000"/>
<rect x="1343" y="924" width="1" height="3" fill="#000"/>
<rect x="1407" y="924" width="1" height="3" fill="#000"/>
</g>
<text transform="translate(1664 29) scale(0.958 1)" fill="#000" stroke="#000" stroke-width=".16" style="font-family:&quot;Liberation Sans&quot;,sans-serif;font-size:9.6px" >35419.0</text>
<text transform="translate(1664 62) scale(0.958 1)" fill="#000" stroke="#000" stroke-width=".16" style="font-family:&quot;Liberation Sans&quot;,sans-serif;font-size:9.6px" >35232.0</text>
<text transform="translate(1664 95) scale(0.958 1)" fill="#000" stroke="#000" stroke-width=".16" style="font-family:&quot;Liberation Sans&quot;,sans-serif;font-size:9.6px" >35045.0</text>
<text transform="translate(1664 128) scale(0.958 1)" fill="#000" stroke="#000" stroke-width=".16" style="font-family:&quot;Liberation Sans&quot;,sans-serif;font-size:9.6px" >34858.0</text>
<text transform="translate(1664 161) scale(0.958 1)" fill="#000" stroke="#000" stroke-width=".16" style="font-family:&quot;Liberation Sans&quot;,sans-serif;font-size:9.6px" >34671.0</text>
<text transform="translate(1664 194) scale(0.958 1)" fill="#000" stroke="#000" stroke-width=".16" style="font-family:&quot;Liberation Sans&quot;,sans-serif;font-size:9.6px" >34484.0</text>
<text transform="translate(1664 227) scale(0.958 1)" fill="#000" stroke="#000" stroke-width=".16" style="font-family:&quot;Liberation Sans&quot;,sans-serif;font-size:9.6px" >34297.0</text>
<text transform="translate(1664 260) scale(0.958 1)" fill="#000" stroke="#000" stroke-width=".16" style="font-family:&quot;Liberation Sans&quot;,sans-serif;font-size:9.6px" >34110.0</text>
<text transform="translate(1664 293) scale(0.958 1)" fill="#000" stroke="#000" stroke-width=".16" style="font-family:&quot;Liberation Sans&quot;,sans-serif;font-size:9.6px" >33923.0</text>
<text transform="translate(1664 326) scale(0.958 1)" fill="#000" stroke="#000" stroke-width=".16" style="font-family:&quot;Liberation Sans&quot;,sans-serif;font-size:9.6px" >33736.0</text>
<text transform="translate(1664 359) scale(0.958 1)" fill="#000" stroke="#000" stroke-width=".16" style="font-family:&quot;Liberation Sans&quot;,sans-serif;font-size:9.6px" >33549.0</text>
<text transform="translate(1664 392) scale(0.958 1)" fill="#000" stroke="#000" stroke-width=".16" style="font-family:&quot;Liberation Sans&quot;,sans-serif;font-size:9.6px" >33362.0</text>
<text transform="translate(1664 425) scale(0.958 1)" fill="#000" stroke="#000" stroke-width=".16" style="font-family:&quot;Liberation Sans&quot;,sans-serif;font-size:9.6px" >33175.0</text>
<text transform="translate(1664 458) scale(0.958 1)" fill="#000" stroke="#000" stroke-width=".16" style="font-family:&quot;Liberation Sans&quot;,sans-serif;font-size:9.6px" >32988.0</text>
<text transform="translate(1664 491) scale(0.958 1)" fill="#000" stroke="#000" stroke-width=".16" style="font-family:&quot;Liberation Sans&quot;,sans-serif;font-size:9.6px" >32801.0</text>
<text transform="translate(1664 524) scale(0.958 1)" fill="#000" stroke="#000" stroke-width=".16" style="font-family:&quot;Liberation Sans&quot;,sans-serif;font-size:9.6px" >32614.0</text>
<text transform="translate(1664 557) scale(0.958 1)" fill="#000" stroke="#000" stroke-width=".16" style="font-family:&quot;Liberation Sans&quot;,sans-serif;font-size:9.6px" >32427.0</text>
<text transform="translate(1664 590) scale(0.958 1)" fill="#000" stroke="#000" stroke-width=".16" style="font-family:&quot;Liberation Sans&quot;,sans-serif;font-size:9.6px" >32245.5</text>
<text transform="translate(1662 602) scale(0.958 1)" fill="#000" stroke="#000" stroke-width=".16" style="font-family:&quot;Liberation Sans&quot;,sans-serif;font-size:9.6px" >348.29</text>
<text transform="translate(1662 680) scale(0.958 1)" fill="#000" stroke="#000" stroke-width=".16" style="font-family:&quot;Liberation Sans&quot;,sans-serif;font-size:9.6px" >0.00</text>
<text transform="translate(1662 744.5) scale(0.958 1)" fill="#000" stroke="#000" stroke-width=".16" style="font-family:&quot;Liberation Sans&quot;,sans-serif;font-size:9.6px" >-294.93</text>
<text transform="translate(1662 759.6) scale(0.958 1)" fill="#000" stroke="#000" stroke-width=".16" style="font-family:&quot;Liberation Sans&quot;,sans-serif;font-size:9.6px" >100</text>
<text transform="translate(1662 788.6) scale(0.958 1)" fill="#000" stroke="#000" stroke-width=".16" style="font-family:&quot;Liberation Sans&quot;,sans-serif;font-size:9.6px" >80</text>
<text transform="translate(1662 840) scale(0.958 1)" fill="#000" stroke="#000" stroke-width=".16" style="font-family:&quot;Liberation Sans&quot;,sans-serif;font-size:9.6px" >50</text>
<text transform="translate(1662 901) scale(0.958 1)" fill="#000" stroke="#000" stroke-width=".16" style="font-family:&quot;Liberation Sans&quot;,sans-serif;font-size:9.6px" >15</text>
<text transform="translate(1662 920) scale(0.958 1)" fill="#000" stroke="#000" stroke-width=".16" style="font-family:&quot;Liberation Sans&quot;,sans-serif;font-size:9.6px" >0</text>
<text transform="translate(-2 935.5) scale(0.975 1)" fill="#000" stroke="#000" stroke-width=".16" style="font-family:&quot;Liberation Sans&quot;,sans-serif;font-size:9.6px" >27 Feb 2022</text>
<text transform="translate(62 935.5) scale(0.975 1)" fill="#000" stroke="#000" stroke-width=".16" style="font-family:&quot;Liberation Sans&quot;,sans-serif;font-size:9.6px" >1 Mar 04:00</text>
<text transform="translate(126 935.5) scale(0.975 1)" fill="#000" stroke="#000" stroke-width=".16" style="font-family:&quot;Liberation Sans&quot;,sans-serif;font-size:9.6px" >2 Mar 12:00</text>
<text transform="translate(190 935.5) scale(0.975 1)" fill="#000" stroke="#000" stroke-width=".16" style="font-family:&quot;Liberation Sans&quot;,sans-serif;font-size:9.6px" >3 Mar 20:00</text>
<text transform="translate(254 935.5) scale(0.975 1)" fill="#000" stroke="#000" stroke-width=".16" style="font-family:&quot;Liberation Sans&quot;,sans-serif;font-size:9.6px" >7 Mar 00:00</text>
<text transform="translate(318 935.5) scale(0.975 1)" fill="#000" stroke="#000" stroke-width=".16" style="font-family:&quot;Liberation Sans&quot;,sans-serif;font-size:9.6px" >8 Mar 08:00</text>
<text transform="translate(382 935.5) scale(0.975 1)" fill="#000" stroke="#000" stroke-width=".16" style="font-family:&quot;Liberation Sans&quot;,sans-serif;font-size:9.6px" >9 Mar 16:00</text>
<text transform="translate(446 935.5) scale(0.975 1)" fill="#000" stroke="#000" stroke-width=".16" style="font-family:&quot;Liberation Sans&quot;,sans-serif;font-size:9.6px" >11 Mar 00:00</text>
<text transform="translate(510 935.5) scale(0.975 1)" fill="#000" stroke="#000" stroke-width=".16" style="font-family:&quot;Liberation Sans&quot;,sans-serif;font-size:9.6px" >14 Mar 04:00</text>
<text transform="translate(574 935.5) scale(0.975 1)" fill="#000" stroke="#000" stroke-width=".16" style="font-family:&quot;Liberation Sans&quot;,sans-serif;font-size:9.6px" >15 Mar 12:00</text>
<text transform="translate(638 935.5) scale(0.975 1)" fill="#000" stroke="#000" stroke-width=".16" style="font-family:&quot;Liberation Sans&quot;,sans-serif;font-size:9.6px" >16 Mar 20:00</text>
<text transform="translate(702 935.5) scale(0.975 1)" fill="#000" stroke="#000" stroke-width=".16" style="font-family:&quot;Liberation Sans&quot;,sans-serif;font-size:9.6px" >18 Mar 04:00</text>
<text transform="translate(766 935.5) scale(0.975 1)" fill="#000" stroke="#000" stroke-width=".16" style="font-family:&quot;Liberation Sans&quot;,sans-serif;font-size:9.6px" >21 Mar 08:00</text>
<text transform="translate(830 935.5) scale(0.975 1)" fill="#000" stroke="#000" stroke-width=".16" style="font-family:&quot;Liberation Sans&quot;,sans-serif;font-size:9.6px" >22 Mar 16:00</text>
<text transform="translate(894 935.5) scale(0.975 1)" fill="#000" stroke="#000" stroke-width=".16" style="font-family:&quot;Liberation Sans&quot;,sans-serif;font-size:9.6px" >24 Mar 00:00</text>
<text transform="translate(958 935.5) scale(0.975 1)" fill="#000" stroke="#000" stroke-width=".16" style="font-family:&quot;Liberation Sans&quot;,sans-serif;font-size:9.6px" >25 Mar 08:00</text>
<text transform="translate(1022 935.5) scale(0.975 1)" fill="#000" stroke="#000" stroke-width=".16" style="font-family:&quot;Liberation Sans&quot;,sans-serif;font-size:9.6px" >28 Mar 16:00</text>
<text transform="translate(1086 935.5) scale(0.975 1)" fill="#000" stroke="#000" stroke-width=".16" style="font-family:&quot;Liberation Sans&quot;,sans-serif;font-size:9.6px" >30 Mar 00:00</text>
<text transform="translate(1150 935.5) scale(0.975 1)" fill="#000" stroke="#000" stroke-width=".16" style="font-family:&quot;Liberation Sans&quot;,sans-serif;font-size:9.6px" >31 Mar 08:00</text>
<text transform="translate(1214 935.5) scale(0.975 1)" fill="#000" stroke="#000" stroke-width=".16" style="font-family:&quot;Liberation Sans&quot;,sans-serif;font-size:9.6px" >1 Apr 16:00</text>
<text transform="translate(1278 935.5) scale(0.975 1)" fill="#000" stroke="#000" stroke-width=".16" style="font-family:&quot;Liberation Sans&quot;,sans-serif;font-size:9.6px" >5 Apr 00:00</text>
<text transform="translate(1342 935.5) scale(0.975 1)" fill="#000" stroke="#000" stroke-width=".16" style="font-family:&quot;Liberation Sans&quot;,sans-serif;font-size:9.6px" >6 Apr 08:00</text>
<text transform="translate(1406 935.5) scale(0.975 1)" fill="#000" stroke="#000" stroke-width=".16" style="font-family:&quot;Liberation Sans&quot;,sans-serif;font-size:9.6px" >7 Apr 16:00</text>
<rect x="1660" y="187" width="41" height="10" fill="#000000" shape-rendering="crispEdges"/>
<text transform="translate(1664 195) scale(0.958 1)" fill="#fff" stroke="#fff" stroke-width=".1" style="font-family:&quot;Liberation Sans&quot;,sans-serif;font-size:9.6px">34477.5</text>
<rect x="1660" y="116" width="41" height="11" fill="#ff0000" shape-rendering="crispEdges"/>
<text transform="translate(1664 125) scale(0.958 1)" fill="#fff" stroke="#fff" stroke-width=".1" style="font-family:&quot;Liberation Sans&quot;,sans-serif;font-size:9.6px">34866.0</text>
<rect x="1660" y="145" width="41" height="11" fill="#ff0000" shape-rendering="crispEdges"/>
<text transform="translate(1664 154) scale(0.958 1)" fill="#fff" stroke="#fff" stroke-width=".1" style="font-family:&quot;Liberation Sans&quot;,sans-serif;font-size:9.6px">34702.2</text>
<rect x="1660" y="176" width="41" height="11" fill="#32cd32" shape-rendering="crispEdges"/>
<text transform="translate(1664 185) scale(0.958 1)" fill="#fff" stroke="#fff" stroke-width=".1" style="font-family:&quot;Liberation Sans&quot;,sans-serif;font-size:9.6px">34527.2</text>
<rect x="1660" y="212" width="41" height="11" fill="#0000ff" shape-rendering="crispEdges"/>
<text transform="translate(1664 221) scale(0.958 1)" fill="#fff" stroke="#fff" stroke-width=".1" style="font-family:&quot;Liberation Sans&quot;,sans-serif;font-size:9.6px">34323.9</text>
<rect x="1660" y="245" width="41" height="11" fill="#0000ff" shape-rendering="crispEdges"/>
<text transform="translate(1664 254) scale(0.958 1)" fill="#fff" stroke="#fff" stroke-width=".1" style="font-family:&quot;Liberation Sans&quot;,sans-serif;font-size:9.6px">34137.6</text>
<polygon points="2,33.5 9.5,33.5 5.75,29.5" fill="#000"/>
<text x="14" y="34" fill="#000" stroke="#000" stroke-width=".16" style="font-family:&quot;Liberation Sans&quot;,sans-serif;font-size:9.6px;white-space:pre" textLength="186" lengthAdjust="spacingAndGlyphs" xml:space="preserve">DJ30-,H4  34477.5 34477.5 34477.5 34477.5</text>
<text x="3" y="604" fill="#000" stroke="#000" stroke-width=".16" style="font-family:&quot;Liberation Sans&quot;,sans-serif;font-size:9.6px" textLength="129" lengthAdjust="spacingAndGlyphs">MACD(12,26,9) -91.59 -120.69</text>
<text x="3" y="762" fill="#000" stroke="#000" stroke-width=".16" style="font-family:&quot;Liberation Sans&quot;,sans-serif;font-size:9.6px" textLength="67.5" lengthAdjust="spacingAndGlyphs">RSI(14) 47.6838</text>
</svg>
<div id="panel">
<div class="pb" style="left:2px;width:52px"><span style="left:10px">SELL</span><i></i></div>
<div class="pb" style="left:169px;width:52px"><span style="left:11px">BUY</span><i></i></div>
<div class="vol"><div class="vb" style="left:1px"><b class="dn"></b></div><div class="vin">1.00</div><div class="vb" style="right:1px"><b class="up"></b></div></div>
<div class="pp" style="left:2px;width:109px"><span class="sm" style="left:15.5px">34476</span><span class="dot" style="left:54.5px"></span><span class="big" style="left:59.5px">0</span></div>
<div class="pp" style="left:113px;width:108px"><span class="sm" style="left:14.5px">34486</span><span class="dot" style="left:54.6px"></span><span class="big" style="left:59.2px">0</span></div>
</div>
<svg id="tb" width="1705" height="22" viewBox="0 0 1705 22">
<g shape-rendering="crispEdges">
<rect x="0" y="0" width="1705" height="18" fill="#f0f0f0" />
<rect x="0" y="18" width="1705" height="1" fill="#a8a8a8" />
<rect x="0" y="19" width="1705" height="1" fill="#696969" />
<rect x="0" y="20" width="1705" height="2" fill="#fff" />
<rect x="294" y="0" width="24" height="17" fill="#f9f9f9" />
<rect x="445" y="0" width="25" height="17" fill="#f9f9f9" />
<rect x="474" y="0" width="24" height="17" fill="#f9f9f9" />
<rect x="633" y="0" width="25" height="17" fill="#f9f9f9" />
<rect x="1080" y="0" width="25" height="17" fill="#f9f9f9" />
<rect x="1079" y="0" width="1" height="16" fill="#808080" />
<rect x="19" y="0" width="1" height="16" fill="#a0a0a0" />
<rect x="255" y="0" width="1" height="16" fill="#a0a0a0" />
<rect x="293" y="0" width="1" height="16" fill="#a0a0a0" />
<rect x="350" y="0" width="1" height="16" fill="#a0a0a0" />
<rect x="440" y="0" width="1" height="16" fill="#a0a0a0" />
<rect x="445" y="0" width="1" height="16" fill="#a0a0a0" />
<rect x="473" y="0" width="1" height="16" fill="#a0a0a0" />
<rect x="502" y="0" width="1" height="16" fill="#a0a0a0" />
<rect x="623" y="0" width="1" height="16" fill="#a0a0a0" />
<rect x="690" y="0" width="1" height="16" fill="#a0a0a0" />
<rect x="929" y="0" width="1" height="16" fill="#a0a0a0" />
<rect x="1190" y="0" width="1" height="16" fill="#a0a0a0" />
<rect x="259" y="1" width="3" height="1" fill="#a8a8a8" />
<rect x="259" y="3" width="3" height="1" fill="#a8a8a8" />
<rect x="259" y="5" width="3" height="1" fill="#a8a8a8" />
<rect x="259" y="7" width="3" height="1" fill="#a8a8a8" />
<rect x="259" y="9" width="3" height="1" fill="#a8a8a8" />
<rect x="259" y="11" width="3" height="1" fill="#a8a8a8" />
<rect x="259" y="13" width="3" height="1" fill="#a8a8a8" />
<rect x="259" y="15" width="3" height="1" fill="#a8a8a8" />
<rect x="627" y="1" width="3" height="1" fill="#a8a8a8" />
<rect x="627" y="3" width="3" height="1" fill="#a8a8a8" />
<rect x="627" y="5" width="3" height="1" fill="#a8a8a8" />
<rect x="627" y="7" width="3" height="1" fill="#a8a8a8" />
<rect x="627" y="9" width="3" height="1" fill="#a8a8a8" />
<rect x="627" y="11" width="3" height="1" fill="#a8a8a8" />
<rect x="627" y="13" width="3" height="1" fill="#a8a8a8" />
<rect x="627" y="15" width="3" height="1" fill="#a8a8a8" />
<rect x="933" y="1" width="3" height="1" fill="#a8a8a8" />
<rect x="933" y="3" width="3" height="1" fill="#a8a8a8" />
<rect x="933" y="5" width="3" height="1" fill="#a8a8a8" />
<rect x="933" y="7" width="3" height="1" fill="#a8a8a8" />
<rect x="933" y="9" width="3" height="1" fill="#a8a8a8" />
<rect x="933" y="11" width="3" height="1" fill="#a8a8a8" />
<rect x="933" y="13" width="3" height="1" fill="#a8a8a8" />
<rect x="933" y="15" width="3" height="1" fill="#a8a8a8" />
<rect x="273" y="0" width="1" height="14" fill="#505050" />
<rect x="271" y="11" width="12" height="1" fill="#505050" />
<polygon points="282.5,9.5 285,11.5 282.5,13.5" fill="#505050"/>
<rect x="301" y="0" width="1" height="14" fill="#505050" />
<rect x="299" y="11" width="12" height="1" fill="#505050" />
<polygon points="310.5,9.5 313,11.5 310.5,13.5" fill="#505050"/>
<rect x="329" y="0" width="1" height="14" fill="#505050" />
<rect x="327" y="11" width="12" height="1" fill="#505050" />
<polygon points="338.5,9.5 341,11.5 338.5,13.5" fill="#505050"/>
<rect x="453" y="0" width="1" height="14" fill="#505050" />
<rect x="451" y="11" width="12" height="1" fill="#505050" />
<polygon points="462.5,9.5 465,11.5 462.5,13.5" fill="#505050"/>
<rect x="481" y="0" width="1" height="14" fill="#505050" />
<rect x="479" y="11" width="12" height="1" fill="#505050" />
<polygon points="490.5,9.5 493,11.5 490.5,13.5" fill="#505050"/>
<rect x="673" y="0" width="1" height="14" fill="#505050" />
<rect x="666" y="6" width="15" height="1" fill="#505050" />
<rect x="707" y="0" width="1" height="13" fill="#505050" />
<rect x="729" y="6" width="13" height="1" fill="#505050" />
<rect x="487" y="0" width="1" height="10" fill="#2060c0" />
<polygon points="533.5,4.5 539.5,4.5 536.5,8" fill="#000"/>
<polygon points="572.5,4.5 578.5,4.5 575.5,8" fill="#000"/>
<polygon points="611.5,4.5 617.5,4.5 614.5,8" fill="#000"/>
<polygon points="917.5,4.5 923.5,4.5 920.5,8" fill="#000"/>
</g>
<circle cx="2" cy="6.5" r="6" fill="#d5e4f6" stroke="#8fb4e6" stroke-width="1.3"/><line x1="6.5" y1="11" x2="11" y2="15" stroke="#c8a02a" stroke-width="2.6"/>
<path d="M15.5 7.8 L17.2 9.5 L15.5 11.2 L13.8 9.5Z" fill="#fff" stroke="#000" stroke-width="1"/>
<path d="M29.5 -2 H37 L40.5 1.5 V11.5 H29.5Z" fill="#fff" stroke="#8a8a8a"/><path d="M31.5 3.5 H37 M31.5 5.5 H36 M31.5 7.5 H34" stroke="#909090"/>
<path d="M37 4.5 h4.4 v4 h4 v3.8 h-4 v4 h-4.4 v-4 h-4 v-3.8 h4 Z" fill="#2ccc2c" stroke="#0c8c0c" stroke-width=".9"/>
<g fill="none" stroke="#000" stroke-width="1.1"><path d="M48.3 .5 H53.2 M48 3.5 H53.6 M50.8 0 V10 M49.6 5.5 L48.2 9 M52 5.5 L53.4 8.4 M54.6 3.5 H60 M55.6 1 V6 Q55.5 9 54.2 10 M58 3.5 V10"/>
<path d="M62 1.3 L63.6 2.6 M62 5 H64 V9 L65.6 7.4 M65.6 .5 H72 M69 .5 V8.8 Q69 10 66.4 9.4"/>
<path d="M73.8 0 V5.1 H82.2 V0 M73.8 .4 H82.2 M73.8 2.7 H82.2 M72.5 7.6 H83.8 M78 0 V10"/></g>
<defs><linearGradient id="bk" x1="0" y1="0" x2="1" y2="1"><stop offset="0" stop-color="#f6d768"/><stop offset="1" stop-color="#b98a12"/></linearGradient></defs>
<path d="M96.4 7.6 L104 13 V15 L96.4 9.6Z" fill="#a8760c"/><path d="M104 13 L112.2 5.6 V7.6 L104 15Z" fill="#ead9a2" stroke="#b08a28" stroke-width=".5"/><path d="M96.4 7.6 L105.4 -1.2 L112.2 5.6 L104 13Z" fill="url(#bk)" stroke="#a8780e" stroke-width=".8"/>
<rect x="126.5" y="-2" width="10.5" height="9" fill="#3d8fe8" stroke="#2a6cc0"/><path d="M129 2 H135 M129 4 H135" stroke="#cfe3fa"/>
<path d="M127.5 14 Q123.8 13.8 124.4 10.8 Q125 8.4 128 8.8 Q129.5 6 132.6 7.2 Q134.6 6.2 135.8 8.6 Q139.8 8.4 139.8 11.4 Q139.6 14 136.5 14Z" fill="#eef3fb" stroke="#6f8fc6" stroke-width=".9"/>
<g fill="none" stroke-width="1.2"><path d="M156.6 0 A7.6 7.6 0 0 0 157 12.6" stroke="#9ab6e8"/><path d="M157.8 1.4 A5 5 0 0 0 157.6 10.2" stroke="#5a86d8"/><path d="M163.4 0 A7.6 7.6 0 0 1 161 13.4" stroke="#7cc07c"/><path d="M162.4 1.6 A5 5 0 0 1 161.4 10.8" stroke="#3aa03a"/></g><circle cx="160" cy="5.8" r="1.9" fill="#2a62cc"/><rect x="159.3" y="6" width="1.5" height="8" fill="#2a9a2a"/>
<ellipse cx="187" cy="1.2" rx="7.8" ry="3.2" fill="#4da2e4" stroke="#2a78c0" stroke-width=".8"/><path d="M180 4.6 H194.5 L189.4 13.6 H186Z" fill="#f2ca34" stroke="#b88c10" stroke-width=".9"/><circle cx="191.6" cy="9.6" r="4.1" fill="#d8200e"/><rect x="190.1" y="8.1" width="3" height="3" fill="#fff"/>
<g fill="none" stroke="#000" stroke-width="1.15"><path d="M201.6 0 V9.6 M210 0 V9.6 M201.6 .5 H210 M201.6 3.4 H210 M201.6 6.4 H210 M201.6 9.3 H210"/>
<path d="M213 1 H218 M212.8 4 H218.6 M215.6 4 L213.6 8.4 H217.4 M216.8 6.4 L218.2 9 M218.6 3 H223 V8.4 Q223 9.9 221.3 9.5 M220.7 0 V4 Q220.5 8 218.4 9.9"/>
<path d="M224.5 1.5 H235.6 M230 0 V1.5 M227.6 3.4 L225.4 6 M232.4 3.4 L234.6 6 M232.2 5 Q230 9 224.8 10 M227.8 5 Q230 8.6 235.6 10"/>
<path d="M239 0 V4.5 H245.5 V0 M239 2 H245.5 M239.5 5 L237.5 7.2 M238.6 6.3 H246.4 V8.8 Q246.4 10 244.8 9.8 M241.6 6.5 L239 9.8 M244 6.5 L241.6 9.8"/></g>
<path d="M276.8 8.6 H279.6 V1.6 H282.2" fill="none" stroke="#169a16" stroke-width="1.5"/>
<rect x="305.5" y="-1" width="4.2" height="9" fill="#3ad83a" stroke="#0c8a0c" stroke-width=".9"/><rect x="307.1" y="8" width="1" height="2" fill="#0c8a0c"/>
<path d="M330 9 Q334.5 -1.5 341.5 7" fill="none" stroke="#169a16" stroke-width="1.3"/>
<line x1="367.1" y1="7.8" x2="373.7" y2="13" stroke="#c8a02a" stroke-width="2.6"/><circle cx="363.5" cy="3.8" r="4.9" fill="#dbe9f9" stroke="#5f93dc" stroke-width="1.2"/>
<rect x="360.9" y="3.2" width="5.2" height="1.3" fill="#3a72c8"/>
<rect x="362.85" y="1.2" width="1.3" height="5.2" fill="#3a72c8"/>
<line x1="396.1" y1="7.8" x2="402.7" y2="13" stroke="#c8a02a" stroke-width="2.6"/><circle cx="392.5" cy="3.8" r="4.9" fill="#dbe9f9" stroke="#5f93dc" stroke-width="1.2"/>
<rect x="389.9" y="3.2" width="5.2" height="1.3" fill="#3a72c8"/>
<g stroke-width=".6"><rect x="415" y="-1" width="8" height="7.4" fill="#3fa63f" stroke="#2a7a2a"/><rect x="423.6" y="-1" width="7.6" height="7.4" fill="#3f72dc" stroke="#2a50a8"/><rect x="415" y="7" width="8" height="7" fill="#3f72dc" stroke="#2a50a8"/><rect x="423.6" y="7" width="7.6" height="7" fill="#3fa63f" stroke="#2a7a2a"/></g><g fill="#e8f0ff"><rect x="416.6" y="2" width="4.8" height="2.4"/><rect x="425" y="2" width="4.8" height="2.4"/><rect x="416.6" y="9.6" width="4.8" height="2.4"/><rect x="425" y="9.6" width="4.8" height="2.4"/></g>
<polygon points="458.2,2 458.2,9 462.4,5.5" fill="#8fe88f" stroke="#169a16" stroke-width="1.1"/>
<path d="M488.5 5.5 L492 2.8 V8.2Z" fill="#e2420e"/><rect x="491" y="5" width="3.4" height="1" fill="#e2420e"/>
<path d="M512.5 -2 H518.5 L521.5 1 V10.5 H512.5Z" fill="#fff" stroke="#8a8a8a"/><path d="M514.2 2.5 V6" stroke="#909090"/>
<path d="M519.6 4 h4.4 v4 h3.8 v3.8 h-3.8 v4 h-4.4 v-4 h-3.8 v-3.8 h3.8 Z" fill="#2ccc2c" stroke="#0c8c0c" stroke-width=".9"/>
<circle cx="558.3" cy="5.2" r="7" fill="#fff" stroke="#2a6cd2" stroke-width="2.4"/><path d="M558.3 1.5 V5.6 H561" fill="none" stroke="#404040" stroke-width="1.1"/>
<rect x="589.5" y="-2" width="15" height="14.2" fill="#fff" stroke="#3a7cda" stroke-width="1.2"/><rect x="589.5" y="-2" width="15" height="2.4" fill="#7aaef0"/><rect x="590" y="6" width="14" height="1" fill="#3a7cda"/><polyline points="591.5,4.6 595,3.6 598,4.4 602.5,2.4" fill="none" stroke="#b83010" stroke-width="1.2"/><polyline points="591.5,10.4 595,9.2 598,10.6 602.5,8.2" fill="none" stroke="#169a16" stroke-width="1.2"/>
<path d="M641 -1 V10.4 L643.8 7.8 L646 12.8 L647.8 12 L645.7 7.2 H649.4Z" fill="#505050"/>
<line x1="757.8" y1="13" x2="770" y2="1" stroke="#505050" stroke-width="1.2"/>
<g stroke="#505050" stroke-width="1"><line x1="783.6" y1="9" x2="794" y2="-1"/><line x1="785.6" y1="12.4" x2="798" y2=".6"/><line x1="786" y1="5" x2="789" y2="11"/><line x1="789" y1="2.5" x2="792" y2="8.5"/><line x1="792" y1="0" x2="795" y2="5.6"/><line x1="784" y1="8" x2="797" y2="3"/></g>
<text x="794.4" y="15.2" fill="#404040" style="font-family:&quot;Liberation Sans&quot;,sans-serif;font-size:6.5px;font-weight:bold">E</text>
<g stroke="#505050" stroke-width="1" stroke-dasharray="1,1" shape-rendering="crispEdges"><line x1="813" y1="2.5" x2="826" y2="2.5"/><line x1="813" y1="6.5" x2="826" y2="6.5"/><line x1="813" y1="10.5" x2="822" y2="10.5"/></g>
<text x="822.8" y="15.2" fill="#404040" style="font-family:&quot;Liberation Sans&quot;,sans-serif;font-size:6.5px;font-weight:bold">F</text>
<text x="843.4" y="11.2" fill="#505050" style="font-family:&quot;Liberation Sans&quot;,sans-serif;font-size:12.4px">A</text>
<rect x="870.5" y="-1.5" width="11" height="14" fill="none" stroke="#505050" stroke-width="1" stroke-dasharray="1,1" shape-rendering="crispEdges"/>
<text x="872.3" y="10.6" fill="#505050" style="font-family:&quot;Liberation Sans&quot;,sans-serif;font-size:12.2px">T</text>
<path d="M901.6 -1 L904.4 2 L901.6 5 L898.8 2Z M908.6 7.4 L911.6 10.2 L908.6 13 L905.6 10.2Z" fill="#505050"/><path d="M900 6.4 L902.4 9 L906.6 3.6" fill="none" stroke="#505050" stroke-width="1.3"/>
<text transform="translate(944.6 10) scale(.96 1)" fill="#444" style="font-family:&quot;Liberation Sans&quot;,sans-serif;font-size:9.6px">M1</text>
<text transform="translate(972.2 10) scale(.96 1)" fill="#444" style="font-family:&quot;Liberation Sans&quot;,sans-serif;font-size:9.6px">M5</text>
<text transform="translate(998.5 10) scale(.96 1)" fill="#444" style="font-family:&quot;Liberation Sans&quot;,sans-serif;font-size:9.6px">M15</text>
<text transform="translate(1026.7 10) scale(.96 1)" fill="#444" style="font-family:&quot;Liberation Sans&quot;,sans-serif;font-size:9.6px">M30</text>
<text transform="translate(1057.6 10) scale(.96 1)" fill="#444" style="font-family:&quot;Liberation Sans&quot;,sans-serif;font-size:9.6px">H1</text>
<text transform="translate(1084.2 10) scale(.96 1)" fill="#444" style="font-family:&quot;Liberation Sans&quot;,sans-serif;font-size:9.6px">H4</text>
<text transform="translate(1113.5 10) scale(.96 1)" fill="#444" style="font-family:&quot;Liberation Sans&quot;,sans-serif;font-size:9.6px">D1</text>
<text transform="translate(1141.4 10) scale(.96 1)" fill="#444" style="font-family:&quot;Liberation Sans&quot;,sans-serif;font-size:9.6px">W1</text>
<text transform="translate(1167.4 10) scale(.96 1)" fill="#444" style="font-family:&quot;Liberation Sans&quot;,sans-serif;font-size:9.6px">MN</text>
<line x1="1657.4" y1="6.4" x2="1653" y2="11" stroke="#2a58c8" stroke-width="2.4"/><circle cx="1660.4" cy="3" r="4.2" fill="#fdfdff" stroke="#2a58c8" stroke-width="1.5"/>
<path d="M1678 8 Q1677.6 3.6 1684 3.6 Q1690 3.6 1690 8 Q1690 12 1684 12.2 L1681 14.4 L1681.4 12 Q1678 11.4 1678 8Z" fill="#e6e8f0" stroke="#c4c8d4" stroke-width=".8"/>
<circle cx="1691" cy="2.6" r="8.3" fill="#d9291c"/>
<text x="1687.2" y="7.6" fill="#fff" style="font-family:&quot;Liberation Serif&quot;,serif;font-size:13.5px;font-weight:bold">1</text>
</svg>
</body></html>
